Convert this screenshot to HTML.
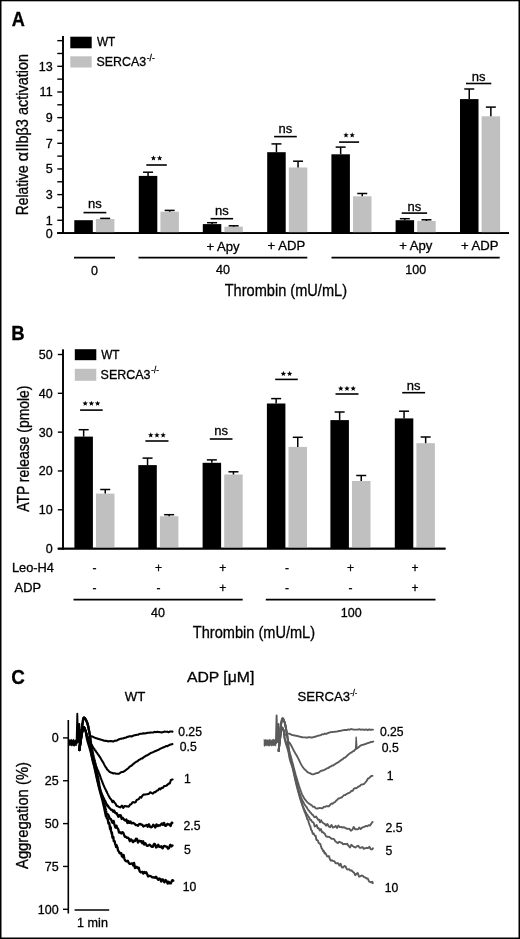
<!DOCTYPE html>
<html><head><meta charset="utf-8"><style>
html,body{margin:0;padding:0;background:#fff;overflow:hidden;width:520px;height:939px;}
svg{display:block;will-change:transform;}
text{font-family:"Liberation Sans", sans-serif;fill:#000;stroke:#000;stroke-width:0.3px;}
</style></head><body>
<svg width="520" height="939" viewBox="0 0 520 939">
<rect width="520" height="939" fill="#fff"/>
<rect x="0.00" y="0.00" width="520.00" height="1.30" fill="#000"/>
<rect x="0.00" y="0.00" width="1.50" height="939.00" fill="#000"/>
<rect x="518.50" y="0.00" width="1.50" height="939.00" fill="#000"/>
<rect x="0.00" y="937.50" width="520.00" height="1.50" fill="#000"/>
<text x="11.70" y="25.80" font-size="19.5" font-weight="bold" textLength="13.10" lengthAdjust="spacingAndGlyphs">A</text>
<text x="11.30" y="339.70" font-size="19.5" font-weight="bold" textLength="13.40" lengthAdjust="spacingAndGlyphs">B</text>
<text x="11.30" y="684.30" font-size="21" font-weight="bold" textLength="13.60" lengthAdjust="spacingAndGlyphs">C</text>
<line x1="63.00" y1="35.90" x2="63.00" y2="233.90" stroke="#000" stroke-width="1.6"/>
<line x1="57.30" y1="233.10" x2="509.00" y2="233.10" stroke="#000" stroke-width="1.8"/>
<line x1="57.30" y1="233.10" x2="63.00" y2="233.10" stroke="#000" stroke-width="1.4"/>
<line x1="57.30" y1="220.27" x2="63.00" y2="220.27" stroke="#000" stroke-width="1.4"/>
<line x1="57.30" y1="207.44" x2="63.00" y2="207.44" stroke="#000" stroke-width="1.4"/>
<line x1="57.30" y1="194.61" x2="63.00" y2="194.61" stroke="#000" stroke-width="1.4"/>
<line x1="57.30" y1="181.78" x2="63.00" y2="181.78" stroke="#000" stroke-width="1.4"/>
<line x1="57.30" y1="168.95" x2="63.00" y2="168.95" stroke="#000" stroke-width="1.4"/>
<line x1="57.30" y1="156.12" x2="63.00" y2="156.12" stroke="#000" stroke-width="1.4"/>
<line x1="57.30" y1="143.29" x2="63.00" y2="143.29" stroke="#000" stroke-width="1.4"/>
<line x1="57.30" y1="130.46" x2="63.00" y2="130.46" stroke="#000" stroke-width="1.4"/>
<line x1="57.30" y1="117.63" x2="63.00" y2="117.63" stroke="#000" stroke-width="1.4"/>
<line x1="57.30" y1="104.80" x2="63.00" y2="104.80" stroke="#000" stroke-width="1.4"/>
<line x1="57.30" y1="91.97" x2="63.00" y2="91.97" stroke="#000" stroke-width="1.4"/>
<line x1="57.30" y1="79.14" x2="63.00" y2="79.14" stroke="#000" stroke-width="1.4"/>
<line x1="57.30" y1="66.31" x2="63.00" y2="66.31" stroke="#000" stroke-width="1.4"/>
<line x1="57.30" y1="53.48" x2="63.00" y2="53.48" stroke="#000" stroke-width="1.4"/>
<line x1="57.30" y1="40.65" x2="63.00" y2="40.65" stroke="#000" stroke-width="1.4"/>
<text x="52.60" y="237.50" font-size="12.5" text-anchor="end">0</text>
<text x="52.60" y="224.67" font-size="12.5" text-anchor="end">1</text>
<text x="52.60" y="199.01" font-size="12.5" text-anchor="end">3</text>
<text x="52.60" y="173.35" font-size="12.5" text-anchor="end">5</text>
<text x="52.60" y="147.69" font-size="12.5" text-anchor="end">7</text>
<text x="52.60" y="122.03" font-size="12.5" text-anchor="end">9</text>
<text x="52.60" y="96.37" font-size="12.5" text-anchor="end">11</text>
<text x="52.60" y="70.71" font-size="12.5" text-anchor="end">13</text>
<text transform="translate(28.3,215.3) rotate(-90)" font-size="16.5" textLength="50.0" lengthAdjust="spacingAndGlyphs">Relative</text>
<text transform="translate(28.3,161.4) rotate(-90)" font-size="16.5">α</text>
<text transform="translate(28.3,151.6) rotate(-90)" font-size="16.5" textLength="97.7" lengthAdjust="spacingAndGlyphs">IIbβ3 activation</text>
<rect x="70.30" y="36.70" width="21.40" height="11.60" fill="#000"/>
<rect x="70.30" y="56.30" width="21.40" height="11.20" fill="#c0c0c0"/>
<text x="97.00" y="46.20" font-size="12.2" textLength="18.30" lengthAdjust="spacingAndGlyphs">WT</text>
<text x="96.60" y="65.60" font-size="12.2" textLength="49.60" lengthAdjust="spacingAndGlyphs">SERCA3</text>
<text x="146.80" y="60.90" font-size="8.5" textLength="8.00" lengthAdjust="spacingAndGlyphs">-/-</text>
<rect x="74.30" y="220.20" width="18.50" height="12.90" fill="#000"/>
<rect x="138.80" y="175.90" width="18.50" height="57.20" fill="#000"/>
<line x1="148.05" y1="172.20" x2="148.05" y2="175.90" stroke="#000" stroke-width="1.5"/>
<line x1="143.05" y1="172.20" x2="153.05" y2="172.20" stroke="#000" stroke-width="1.5"/>
<rect x="202.80" y="224.10" width="18.50" height="9.00" fill="#000"/>
<line x1="212.05" y1="222.70" x2="212.05" y2="224.10" stroke="#000" stroke-width="1.5"/>
<line x1="207.05" y1="222.70" x2="217.05" y2="222.70" stroke="#000" stroke-width="1.5"/>
<rect x="267.20" y="152.20" width="18.50" height="80.90" fill="#000"/>
<line x1="276.45" y1="143.90" x2="276.45" y2="152.20" stroke="#000" stroke-width="1.5"/>
<line x1="271.45" y1="143.90" x2="281.45" y2="143.90" stroke="#000" stroke-width="1.5"/>
<rect x="331.40" y="154.30" width="18.50" height="78.80" fill="#000"/>
<line x1="340.65" y1="147.10" x2="340.65" y2="154.30" stroke="#000" stroke-width="1.5"/>
<line x1="335.65" y1="147.10" x2="345.65" y2="147.10" stroke="#000" stroke-width="1.5"/>
<rect x="395.60" y="220.20" width="18.50" height="12.90" fill="#000"/>
<line x1="404.85" y1="218.70" x2="404.85" y2="220.20" stroke="#000" stroke-width="1.5"/>
<line x1="399.85" y1="218.70" x2="409.85" y2="218.70" stroke="#000" stroke-width="1.5"/>
<rect x="460.00" y="99.10" width="18.50" height="134.00" fill="#000"/>
<line x1="469.25" y1="89.00" x2="469.25" y2="99.10" stroke="#000" stroke-width="1.5"/>
<line x1="464.25" y1="89.00" x2="474.25" y2="89.00" stroke="#000" stroke-width="1.5"/>
<rect x="95.90" y="219.00" width="18.50" height="14.10" fill="#c0c0c0"/>
<line x1="105.15" y1="218.40" x2="105.15" y2="219.00" stroke="#000" stroke-width="1.5"/>
<line x1="100.15" y1="218.40" x2="110.15" y2="218.40" stroke="#000" stroke-width="1.5"/>
<rect x="160.40" y="211.70" width="18.50" height="21.40" fill="#c0c0c0"/>
<line x1="169.65" y1="210.40" x2="169.65" y2="211.70" stroke="#000" stroke-width="1.5"/>
<line x1="164.65" y1="210.40" x2="174.65" y2="210.40" stroke="#000" stroke-width="1.5"/>
<rect x="224.40" y="226.70" width="18.50" height="6.40" fill="#c0c0c0"/>
<line x1="233.65" y1="225.80" x2="233.65" y2="226.70" stroke="#000" stroke-width="1.5"/>
<line x1="228.65" y1="225.80" x2="238.65" y2="225.80" stroke="#000" stroke-width="1.5"/>
<rect x="288.80" y="167.50" width="18.50" height="65.60" fill="#c0c0c0"/>
<line x1="298.05" y1="161.20" x2="298.05" y2="167.50" stroke="#000" stroke-width="1.5"/>
<line x1="293.05" y1="161.20" x2="303.05" y2="161.20" stroke="#000" stroke-width="1.5"/>
<rect x="353.00" y="196.30" width="18.50" height="36.80" fill="#c0c0c0"/>
<line x1="362.25" y1="193.50" x2="362.25" y2="196.30" stroke="#000" stroke-width="1.5"/>
<line x1="357.25" y1="193.50" x2="367.25" y2="193.50" stroke="#000" stroke-width="1.5"/>
<rect x="417.20" y="221.00" width="18.50" height="12.10" fill="#c0c0c0"/>
<line x1="426.45" y1="219.80" x2="426.45" y2="221.00" stroke="#000" stroke-width="1.5"/>
<line x1="421.45" y1="219.80" x2="431.45" y2="219.80" stroke="#000" stroke-width="1.5"/>
<rect x="481.60" y="116.30" width="18.50" height="116.80" fill="#c0c0c0"/>
<line x1="490.85" y1="107.10" x2="490.85" y2="116.30" stroke="#000" stroke-width="1.5"/>
<line x1="485.85" y1="107.10" x2="495.85" y2="107.10" stroke="#000" stroke-width="1.5"/>
<line x1="57.30" y1="233.10" x2="509.00" y2="233.10" stroke="#000" stroke-width="1.8"/>
<line x1="63.00" y1="35.90" x2="63.00" y2="233.90" stroke="#000" stroke-width="1.6"/>
<line x1="83.50" y1="212.60" x2="106.30" y2="212.60" stroke="#000" stroke-width="1.6"/>
<text x="94.90" y="208.00" font-size="13" text-anchor="middle">ns</text>
<line x1="146.30" y1="165.00" x2="166.80" y2="165.00" stroke="#000" stroke-width="1.6"/>
<polygon points="153.45,155.35 154.18,157.19 156.16,157.32 154.64,158.59 155.13,160.51 153.45,159.45 151.77,160.51 152.26,158.59 150.74,157.32 152.72,157.19" fill="#000"/>
<polygon points="159.65,155.35 160.38,157.19 162.36,157.32 160.84,158.59 161.33,160.51 159.65,159.45 157.97,160.51 158.46,158.59 156.94,157.32 158.92,157.19" fill="#000"/>
<line x1="210.60" y1="218.70" x2="233.10" y2="218.70" stroke="#000" stroke-width="1.6"/>
<text x="221.85" y="215.10" font-size="13" text-anchor="middle">ns</text>
<line x1="274.10" y1="136.60" x2="296.80" y2="136.60" stroke="#000" stroke-width="1.6"/>
<text x="285.45" y="132.80" font-size="13" text-anchor="middle">ns</text>
<line x1="339.10" y1="142.10" x2="359.10" y2="142.10" stroke="#000" stroke-width="1.6"/>
<polygon points="346.00,132.35 346.73,134.19 348.71,134.32 347.19,135.59 347.68,137.51 346.00,136.45 344.32,137.51 344.81,135.59 343.29,134.32 345.27,134.19" fill="#000"/>
<polygon points="352.20,132.35 352.93,134.19 354.91,134.32 353.39,135.59 353.88,137.51 352.20,136.45 350.52,137.51 351.01,135.59 349.49,134.32 351.47,134.19" fill="#000"/>
<line x1="401.70" y1="213.10" x2="427.10" y2="213.10" stroke="#000" stroke-width="1.6"/>
<text x="414.40" y="210.50" font-size="13" text-anchor="middle">ns</text>
<line x1="466.00" y1="83.50" x2="491.30" y2="83.50" stroke="#000" stroke-width="1.6"/>
<text x="478.65" y="80.50" font-size="13" text-anchor="middle">ns</text>
<line x1="74.00" y1="257.60" x2="115.00" y2="257.60" stroke="#000" stroke-width="1.7"/>
<line x1="138.50" y1="257.60" x2="307.30" y2="257.60" stroke="#000" stroke-width="1.7"/>
<line x1="331.50" y1="257.60" x2="499.70" y2="257.60" stroke="#000" stroke-width="1.7"/>
<text x="94.60" y="274.50" font-size="12.5" text-anchor="middle">0</text>
<text x="223.00" y="274.40" font-size="12.5" text-anchor="middle">40</text>
<text x="415.70" y="274.20" font-size="12.5" text-anchor="middle">100</text>
<text x="223.00" y="250.60" font-size="12.8" text-anchor="middle" textLength="33.20" lengthAdjust="spacingAndGlyphs">+ Apy</text>
<text x="286.40" y="250.40" font-size="12.8" text-anchor="middle" textLength="37.60" lengthAdjust="spacingAndGlyphs">+ ADP</text>
<text x="415.80" y="250.20" font-size="12.8" text-anchor="middle" textLength="33.20" lengthAdjust="spacingAndGlyphs">+ Apy</text>
<text x="479.80" y="250.40" font-size="12.8" text-anchor="middle" textLength="37.60" lengthAdjust="spacingAndGlyphs">+ ADP</text>
<text x="285.84" y="296.30" font-size="16.5" text-anchor="middle" textLength="122.30" lengthAdjust="spacingAndGlyphs">Thrombin (mU/mL)</text>
<line x1="63.00" y1="349.60" x2="63.00" y2="549.40" stroke="#000" stroke-width="1.6"/>
<line x1="57.80" y1="548.60" x2="445.50" y2="548.60" stroke="#000" stroke-width="1.8"/>
<line x1="57.80" y1="548.60" x2="63.00" y2="548.60" stroke="#000" stroke-width="1.4"/>
<text x="52.60" y="553.00" font-size="12.5" text-anchor="end">0</text>
<line x1="57.80" y1="509.78" x2="63.00" y2="509.78" stroke="#000" stroke-width="1.4"/>
<text x="52.60" y="514.18" font-size="12.5" text-anchor="end">10</text>
<line x1="57.80" y1="470.96" x2="63.00" y2="470.96" stroke="#000" stroke-width="1.4"/>
<text x="52.60" y="475.36" font-size="12.5" text-anchor="end">20</text>
<line x1="57.80" y1="432.14" x2="63.00" y2="432.14" stroke="#000" stroke-width="1.4"/>
<text x="52.60" y="436.54" font-size="12.5" text-anchor="end">30</text>
<line x1="57.80" y1="393.32" x2="63.00" y2="393.32" stroke="#000" stroke-width="1.4"/>
<text x="52.60" y="397.72" font-size="12.5" text-anchor="end">40</text>
<line x1="57.80" y1="354.50" x2="63.00" y2="354.50" stroke="#000" stroke-width="1.4"/>
<text x="52.60" y="358.90" font-size="12.5" text-anchor="end">50</text>
<text transform="translate(28.8,511.8) rotate(-90)" font-size="16" textLength="126.2" lengthAdjust="spacingAndGlyphs">ATP release (pmole)</text>
<rect x="74.80" y="349.20" width="21.50" height="11.00" fill="#000"/>
<rect x="74.80" y="368.80" width="21.50" height="12.00" fill="#c0c0c0"/>
<text x="101.20" y="359.30" font-size="12.2" textLength="18.30" lengthAdjust="spacingAndGlyphs">WT</text>
<text x="100.60" y="378.70" font-size="12.2" textLength="49.90" lengthAdjust="spacingAndGlyphs">SERCA3</text>
<text x="151.30" y="373.10" font-size="8.5" textLength="7.60" lengthAdjust="spacingAndGlyphs">-/-</text>
<rect x="74.40" y="436.60" width="18.50" height="112.00" fill="#000"/>
<line x1="83.65" y1="429.70" x2="83.65" y2="436.60" stroke="#000" stroke-width="1.5"/>
<line x1="78.65" y1="429.70" x2="88.65" y2="429.70" stroke="#000" stroke-width="1.5"/>
<rect x="138.30" y="465.10" width="18.50" height="83.50" fill="#000"/>
<line x1="147.55" y1="458.10" x2="147.55" y2="465.10" stroke="#000" stroke-width="1.5"/>
<line x1="142.55" y1="458.10" x2="152.55" y2="458.10" stroke="#000" stroke-width="1.5"/>
<rect x="202.60" y="462.80" width="18.50" height="85.80" fill="#000"/>
<line x1="211.85" y1="459.90" x2="211.85" y2="462.80" stroke="#000" stroke-width="1.5"/>
<line x1="206.85" y1="459.90" x2="216.85" y2="459.90" stroke="#000" stroke-width="1.5"/>
<rect x="266.90" y="403.50" width="18.50" height="145.10" fill="#000"/>
<line x1="276.15" y1="398.60" x2="276.15" y2="403.50" stroke="#000" stroke-width="1.5"/>
<line x1="271.15" y1="398.60" x2="281.15" y2="398.60" stroke="#000" stroke-width="1.5"/>
<rect x="330.40" y="420.10" width="18.50" height="128.50" fill="#000"/>
<line x1="339.65" y1="412.00" x2="339.65" y2="420.10" stroke="#000" stroke-width="1.5"/>
<line x1="334.65" y1="412.00" x2="344.65" y2="412.00" stroke="#000" stroke-width="1.5"/>
<rect x="394.80" y="418.40" width="18.50" height="130.20" fill="#000"/>
<line x1="404.05" y1="411.20" x2="404.05" y2="418.40" stroke="#000" stroke-width="1.5"/>
<line x1="399.05" y1="411.20" x2="409.05" y2="411.20" stroke="#000" stroke-width="1.5"/>
<rect x="96.00" y="493.60" width="18.50" height="55.00" fill="#c0c0c0"/>
<line x1="105.25" y1="489.50" x2="105.25" y2="493.60" stroke="#000" stroke-width="1.5"/>
<line x1="100.25" y1="489.50" x2="110.25" y2="489.50" stroke="#000" stroke-width="1.5"/>
<rect x="159.90" y="516.20" width="18.50" height="32.40" fill="#c0c0c0"/>
<line x1="169.15" y1="514.70" x2="169.15" y2="516.20" stroke="#000" stroke-width="1.5"/>
<line x1="164.15" y1="514.70" x2="174.15" y2="514.70" stroke="#000" stroke-width="1.5"/>
<rect x="224.20" y="474.50" width="18.50" height="74.10" fill="#c0c0c0"/>
<line x1="233.45" y1="471.80" x2="233.45" y2="474.50" stroke="#000" stroke-width="1.5"/>
<line x1="228.45" y1="471.80" x2="238.45" y2="471.80" stroke="#000" stroke-width="1.5"/>
<rect x="288.50" y="446.90" width="18.50" height="101.70" fill="#c0c0c0"/>
<line x1="297.75" y1="437.30" x2="297.75" y2="446.90" stroke="#000" stroke-width="1.5"/>
<line x1="292.75" y1="437.30" x2="302.75" y2="437.30" stroke="#000" stroke-width="1.5"/>
<rect x="352.00" y="481.00" width="18.50" height="67.60" fill="#c0c0c0"/>
<line x1="361.25" y1="475.50" x2="361.25" y2="481.00" stroke="#000" stroke-width="1.5"/>
<line x1="356.25" y1="475.50" x2="366.25" y2="475.50" stroke="#000" stroke-width="1.5"/>
<rect x="416.40" y="443.20" width="18.50" height="105.40" fill="#c0c0c0"/>
<line x1="425.65" y1="437.00" x2="425.65" y2="443.20" stroke="#000" stroke-width="1.5"/>
<line x1="420.65" y1="437.00" x2="430.65" y2="437.00" stroke="#000" stroke-width="1.5"/>
<line x1="57.80" y1="548.60" x2="445.50" y2="548.60" stroke="#000" stroke-width="1.8"/>
<line x1="63.00" y1="349.60" x2="63.00" y2="549.40" stroke="#000" stroke-width="1.6"/>
<line x1="80.10" y1="410.10" x2="102.70" y2="410.10" stroke="#000" stroke-width="1.6"/>
<polygon points="85.20,400.65 85.93,402.49 87.91,402.62 86.39,403.89 86.88,405.81 85.20,404.75 83.52,405.81 84.01,403.89 82.49,402.62 84.47,402.49" fill="#000"/>
<polygon points="91.40,400.65 92.13,402.49 94.11,402.62 92.59,403.89 93.08,405.81 91.40,404.75 89.72,405.81 90.21,403.89 88.69,402.62 90.67,402.49" fill="#000"/>
<polygon points="97.60,400.65 98.33,402.49 100.31,402.62 98.79,403.89 99.28,405.81 97.60,404.75 95.92,405.81 96.41,403.89 94.89,402.62 96.87,402.49" fill="#000"/>
<line x1="145.40" y1="441.00" x2="168.50" y2="441.00" stroke="#000" stroke-width="1.6"/>
<polygon points="150.75,432.35 151.48,434.19 153.46,434.32 151.94,435.59 152.43,437.51 150.75,436.45 149.07,437.51 149.56,435.59 148.04,434.32 150.02,434.19" fill="#000"/>
<polygon points="156.95,432.35 157.68,434.19 159.66,434.32 158.14,435.59 158.63,437.51 156.95,436.45 155.27,437.51 155.76,435.59 154.24,434.32 156.22,434.19" fill="#000"/>
<polygon points="163.15,432.35 163.88,434.19 165.86,434.32 164.34,435.59 164.83,437.51 163.15,436.45 161.47,437.51 161.96,435.59 160.44,434.32 162.42,434.19" fill="#000"/>
<line x1="209.80" y1="439.00" x2="232.50" y2="439.00" stroke="#000" stroke-width="1.6"/>
<text x="221.15" y="434.80" font-size="13" text-anchor="middle">ns</text>
<line x1="275.20" y1="379.40" x2="297.80" y2="379.40" stroke="#000" stroke-width="1.6"/>
<polygon points="283.40,370.95 284.13,372.79 286.11,372.92 284.59,374.19 285.08,376.11 283.40,375.05 281.72,376.11 282.21,374.19 280.69,372.92 282.67,372.79" fill="#000"/>
<polygon points="289.60,370.95 290.33,372.79 292.31,372.92 290.79,374.19 291.28,376.11 289.60,375.05 287.92,376.11 288.41,374.19 286.89,372.92 288.87,372.79" fill="#000"/>
<line x1="335.50" y1="394.00" x2="358.50" y2="394.00" stroke="#000" stroke-width="1.6"/>
<polygon points="340.80,385.75 341.53,387.59 343.51,387.72 341.99,388.99 342.48,390.91 340.80,389.85 339.12,390.91 339.61,388.99 338.09,387.72 340.07,387.59" fill="#000"/>
<polygon points="347.00,385.75 347.73,387.59 349.71,387.72 348.19,388.99 348.68,390.91 347.00,389.85 345.32,390.91 345.81,388.99 344.29,387.72 346.27,387.59" fill="#000"/>
<polygon points="353.20,385.75 353.93,387.59 355.91,387.72 354.39,388.99 354.88,390.91 353.20,389.85 351.52,390.91 352.01,388.99 350.49,387.72 352.47,387.59" fill="#000"/>
<line x1="402.20" y1="392.70" x2="425.10" y2="392.70" stroke="#000" stroke-width="1.6"/>
<text x="413.65" y="389.60" font-size="13" text-anchor="middle">ns</text>
<text x="12.00" y="572.30" font-size="12.8" textLength="42.00" lengthAdjust="spacingAndGlyphs">Leo-H4</text>
<text x="14.60" y="592.00" font-size="12.8" textLength="26.40" lengthAdjust="spacingAndGlyphs">ADP</text>
<text x="94.60" y="572.30" font-size="12" text-anchor="middle">-</text>
<text x="94.60" y="591.60" font-size="12" text-anchor="middle">-</text>
<text x="158.50" y="572.30" font-size="12" text-anchor="middle">+</text>
<text x="158.50" y="591.60" font-size="12" text-anchor="middle">-</text>
<text x="222.80" y="572.30" font-size="12" text-anchor="middle">+</text>
<text x="222.80" y="591.60" font-size="12" text-anchor="middle">+</text>
<text x="287.10" y="572.30" font-size="12" text-anchor="middle">-</text>
<text x="287.10" y="591.60" font-size="12" text-anchor="middle">-</text>
<text x="350.60" y="572.30" font-size="12" text-anchor="middle">+</text>
<text x="350.60" y="591.60" font-size="12" text-anchor="middle">-</text>
<text x="415.00" y="572.30" font-size="12" text-anchor="middle">+</text>
<text x="415.00" y="591.60" font-size="12" text-anchor="middle">+</text>
<line x1="73.50" y1="599.60" x2="242.70" y2="599.60" stroke="#000" stroke-width="1.7"/>
<line x1="265.80" y1="599.60" x2="435.50" y2="599.60" stroke="#000" stroke-width="1.7"/>
<text x="158.00" y="616.60" font-size="12.5" text-anchor="middle">40</text>
<text x="351.30" y="616.60" font-size="12.5" text-anchor="middle">100</text>
<text x="253.94" y="638.00" font-size="16.5" text-anchor="middle" textLength="122.30" lengthAdjust="spacingAndGlyphs">Thrombin (mU/mL)</text>
<text x="220.60" y="681.60" font-size="14.6" text-anchor="middle" textLength="67.40" lengthAdjust="spacingAndGlyphs">ADP [μM]</text>
<text x="135.10" y="701.10" font-size="12.8" text-anchor="middle" textLength="20.50" lengthAdjust="spacingAndGlyphs">WT</text>
<text x="297.40" y="701.30" font-size="12.8" textLength="52.60" lengthAdjust="spacingAndGlyphs">SERCA3</text>
<text x="350.20" y="695.80" font-size="8.5" textLength="7.00" lengthAdjust="spacingAndGlyphs">-/-</text>
<line x1="68.30" y1="720.00" x2="68.30" y2="913.50" stroke="#000" stroke-width="1.6"/>
<line x1="63.00" y1="737.90" x2="68.30" y2="737.90" stroke="#000" stroke-width="1.4"/>
<text x="58.60" y="742.30" font-size="12.5" text-anchor="end">0</text>
<line x1="63.00" y1="780.75" x2="68.30" y2="780.75" stroke="#000" stroke-width="1.4"/>
<text x="58.60" y="785.15" font-size="12.5" text-anchor="end">25</text>
<line x1="63.00" y1="823.60" x2="68.30" y2="823.60" stroke="#000" stroke-width="1.4"/>
<text x="58.60" y="828.00" font-size="12.5" text-anchor="end">50</text>
<line x1="63.00" y1="866.45" x2="68.30" y2="866.45" stroke="#000" stroke-width="1.4"/>
<text x="58.60" y="870.85" font-size="12.5" text-anchor="end">75</text>
<line x1="63.00" y1="909.30" x2="68.30" y2="909.30" stroke="#000" stroke-width="1.4"/>
<text x="58.60" y="913.70" font-size="12.5" text-anchor="end">100</text>
<text transform="translate(28.4,869.0) rotate(-90)" font-size="16" textLength="107" lengthAdjust="spacingAndGlyphs">Aggregation (%)</text>
<line x1="74.60" y1="910.00" x2="109.20" y2="910.00" stroke="#000" stroke-width="1.6"/>
<text x="92.50" y="926.90" font-size="12.5" text-anchor="middle" textLength="30.80" lengthAdjust="spacingAndGlyphs">1 min</text>
<text x="178.20" y="735.50" font-size="12.2">0.25</text>
<text x="179.80" y="750.50" font-size="12.2">0.5</text>
<text x="184.00" y="783.40" font-size="12.2">1</text>
<text x="183.60" y="830.10" font-size="12.2">2.5</text>
<text x="184.00" y="853.70" font-size="12.2">5</text>
<text x="182.80" y="890.50" font-size="12.2">10</text>
<text x="379.90" y="735.50" font-size="12.2">0.25</text>
<text x="381.80" y="751.60" font-size="12.2">0.5</text>
<text x="386.70" y="779.70" font-size="12.2">1</text>
<text x="385.60" y="831.60" font-size="12.2">2.5</text>
<text x="385.60" y="855.10" font-size="12.2">5</text>
<text x="384.70" y="891.80" font-size="12.2">10</text>
<polygon points="69.00,739.38 69.70,739.90 70.40,740.04 71.10,739.24 71.80,739.41 72.50,740.50 73.20,739.30 73.90,739.38 74.60,740.53 75.30,740.07 76.00,739.72 76.70,739.92 76.70,745.58 76.00,745.68 75.30,745.19 74.60,746.27 73.90,745.67 73.20,746.04 72.50,745.62 71.80,745.84 71.10,746.00 70.40,745.09 69.70,745.29 69.00,745.83" fill="#000" stroke="#000" stroke-width="0.6" stroke-linejoin="round"/>
<polyline points="76.6,744 77.3,713.8 78.0,742 78.6,730 79.3,724 79.8,744 79.4,750" fill="none" stroke="#000" stroke-width="1.9" stroke-linejoin="round"/>
<polyline points="79.40,750.00 79.45,749.65 79.50,749.31 79.56,748.96 79.61,748.62 79.66,748.27 79.71,747.92 79.76,747.58 79.82,747.23 79.87,746.88 79.92,746.54 79.97,746.19 80.02,745.85 80.07,745.50 80.13,745.15 80.18,744.81 80.23,744.46 80.28,744.12 80.33,743.77 80.39,743.42 80.44,743.08 80.49,742.73 80.54,742.39 80.59,742.04 80.65,741.69 80.70,741.35 80.75,741.00 80.79,740.65 80.84,740.31 80.89,739.96 80.94,739.61 80.99,739.27 81.03,738.92 81.08,738.57 81.13,738.23 81.18,737.88 81.23,737.53 81.28,737.19 81.33,736.84 81.38,736.49 81.43,736.15 81.48,735.80 81.54,735.46 81.59,735.11 81.65,734.77 81.72,734.42 81.78,734.08 81.85,733.74 81.92,733.39 81.99,733.05 82.06,732.71 82.13,732.36 82.20,732.02 82.27,731.68 82.34,731.33 82.41,730.99 82.48,730.65 82.55,730.31 82.62,729.96 82.70,729.62 82.78,729.28 82.86,728.94 82.95,728.60 83.05,728.27 83.16,727.93 83.28,727.61 83.45,727.30 83.72,727.10 84.01,727.28 84.21,727.56 84.38,727.87 84.52,728.19 84.66,728.52 84.78,728.84 84.91,729.17 85.03,729.50 85.15,729.83 85.27,730.16 85.39,730.48 85.52,730.81 85.65,731.13 85.78,731.46 85.89,731.79 86.00,732.12 86.10,732.46 86.20,732.79 86.29,733.13 86.39,733.47 86.48,733.80 86.57,734.14 86.67,734.48 86.76,734.82 86.86,735.15 86.96,735.49 87.06,735.82 87.17,736.15 87.29,736.48 87.43,736.81 87.58,737.12 87.79,737.40 88.11,737.50 88.46,737.45 88.80,737.36 89.13,737.24 89.45,737.11 89.77,736.96 90.09,736.82 90.41,736.68 90.74,736.56 91.08,736.46 91.42,736.41 91.77,736.41 92.12,736.46 92.45,736.56 92.78,736.69 93.09,736.84 93.40,737.00 93.71,737.17 94.02,737.34 94.33,737.50 94.64,737.65 94.97,737.79 95.29,737.91 95.62,738.02 95.96,738.14 96.29,738.25 96.62,738.36 96.95,738.47 97.29,738.57 97.62,738.68 97.95,738.78 98.29,738.88 98.62,738.99 98.96,739.09 99.29,739.19 99.63,739.29 99.96,739.39 100.30,739.48 100.63,739.57 100.97,739.67 101.30,739.77 101.63,739.86 101.97,739.95 102.30,740.03 102.64,740.11 102.97,740.25 103.31,740.40 103.65,740.55 103.99,740.71 104.33,740.76 104.67,740.80 105.02,740.83 105.36,740.85 105.71,740.86 106.05,740.87 106.40,740.87 106.74,740.87 107.09,741.01 107.43,741.15 107.78,741.30 108.13,741.45 108.48,741.39 108.82,741.33 109.17,741.26 109.52,741.18 109.87,741.16 110.22,741.14 110.57,741.11 110.92,741.07 111.27,741.14 111.62,741.21 111.97,741.27 112.32,741.33 112.67,741.35 113.01,741.36 113.36,741.36 113.71,741.37 114.05,741.17 114.40,740.96 114.75,740.76 115.09,740.55 115.44,740.63 115.78,740.69 116.12,740.73 116.45,740.77 116.79,740.56 117.12,740.34 117.45,740.11 117.78,739.89 118.10,739.75 118.43,739.61 118.76,739.47 119.09,739.33 119.42,739.20 119.75,739.07 120.08,738.95 120.41,738.83 120.75,738.77 121.08,738.71 121.41,738.65 121.74,738.58 122.08,738.55 122.41,738.52 122.74,738.48 123.07,738.45 123.41,738.30 123.74,738.16 124.08,738.01 124.41,737.87 124.75,737.83 125.08,737.80 125.42,737.76 125.76,737.73 126.09,737.53 126.43,737.33 126.77,737.12 127.11,736.92 127.45,736.85 127.79,736.78 128.12,736.71 128.46,736.65 128.80,736.52 129.14,736.40 129.48,736.28 129.82,736.15 130.16,736.23 130.51,736.30 130.85,736.38 131.19,736.46 131.53,736.38 131.87,736.30 132.21,736.22 132.56,736.14 132.90,735.94 133.24,735.74 133.58,735.54 133.92,735.34 134.27,735.31 134.61,735.27 134.95,735.23 135.29,735.19 135.63,735.09 135.98,735.00 136.32,734.90 136.66,734.80 137.00,734.80 137.34,734.80 137.68,734.80 138.03,734.80 138.37,734.60 138.71,734.40 139.05,734.20 139.39,734.01 139.74,733.94 140.08,733.87 140.42,733.80 140.76,733.74 141.11,733.72 141.45,733.71 141.79,733.69 142.13,733.68 142.48,733.58 142.82,733.48 143.16,733.39 143.50,733.29 143.85,733.33 144.19,733.37 144.54,733.42 144.88,733.46 145.23,733.39 145.57,733.31 145.92,733.24 146.26,733.17 146.61,733.08 146.96,732.99 147.30,732.91 147.65,732.82 148.00,732.79 148.34,732.77 148.69,732.74 149.04,732.72 149.38,732.68 149.73,732.65 150.08,732.62 150.43,732.59 150.78,732.57 151.12,732.55 151.47,732.53 151.82,732.51 152.17,732.51 152.52,732.50 152.87,732.50 153.22,732.50 153.57,732.34 153.91,732.18 154.26,732.02 154.61,731.87 154.96,731.94 155.31,732.01 155.66,732.09 156.01,732.16 156.36,732.07 156.71,731.98 157.06,731.88 157.41,731.79 157.76,731.84 158.11,731.89 158.46,731.93 158.81,731.98 159.16,732.03 159.51,732.09 159.86,732.14 160.21,732.20 160.56,732.26 160.91,732.32 161.26,732.38 161.61,732.44 161.96,732.36 162.31,732.28 162.66,732.21 163.01,732.13 163.36,732.00 163.71,731.86 164.06,731.73 164.41,731.60 164.76,731.65 165.11,731.70 165.46,731.75 165.81,731.80 166.16,731.76 166.51,731.72 166.86,731.68 167.21,731.64 167.56,731.78 167.91,731.92 168.26,732.06 168.61,732.20 168.96,732.05 169.31,731.89 169.66,731.74 170.01,731.59 170.36,731.57 170.71,731.55 171.06,731.53 171.41,731.51 171.76,731.56 172.11,731.60 172.46,731.65" fill="none" stroke="#000" stroke-width="2.1" stroke-linejoin="round" stroke-linecap="round"/>
<polyline points="79.40,750.00 79.45,749.65 79.50,749.31 79.56,748.96 79.61,748.62 79.66,748.27 79.71,747.92 79.76,747.58 79.82,747.23 79.87,746.88 79.92,746.54 79.97,746.19 80.02,745.85 80.07,745.50 80.13,745.15 80.18,744.81 80.23,744.46 80.28,744.12 80.33,743.77 80.39,743.42 80.44,743.08 80.49,742.73 80.54,742.39 80.59,742.04 80.65,741.69 80.70,741.35 80.75,741.00 80.79,740.65 80.84,740.31 80.89,739.96 80.94,739.61 80.99,739.27 81.03,738.92 81.08,738.57 81.13,738.23 81.18,737.88 81.23,737.53 81.28,737.19 81.33,736.84 81.38,736.49 81.43,736.15 81.48,735.80 81.54,735.46 81.59,735.11 81.65,734.77 81.72,734.42 81.78,734.08 81.85,733.74 81.92,733.39 81.99,733.05 82.06,732.71 82.13,732.36 82.20,732.02 82.27,731.68 82.34,731.33 82.41,730.99 82.48,730.65 82.55,730.31 82.62,729.96 82.70,729.62 82.78,729.28 82.86,728.94 82.95,728.60 83.05,728.27 83.16,727.93 83.28,727.61 83.45,727.30 83.72,727.10 84.01,727.27 84.22,727.55 84.39,727.86 84.54,728.17 84.68,728.50 84.81,728.82 84.93,729.15 85.05,729.48 85.17,729.81 85.29,730.14 85.40,730.47 85.52,730.80 85.64,731.12 85.76,731.46 85.86,731.79 85.95,732.13 86.04,732.47 86.13,732.81 86.21,733.15 86.30,733.49 86.38,733.83 86.46,734.17 86.54,734.51 86.62,734.85 86.70,735.19 86.78,735.53 86.86,735.87 86.95,736.21 87.04,736.55 87.13,736.88 87.23,737.22 87.33,737.55 87.45,737.88 87.59,738.21 87.73,738.52 87.88,738.84 88.04,739.15 88.20,739.46 88.38,739.77 88.55,740.07 88.74,740.37 88.93,740.66 89.12,740.95 89.32,741.24 89.52,741.53 89.72,741.81 89.92,742.10 90.11,742.39 90.31,742.69 90.49,742.98 90.67,743.28 90.85,743.58 91.03,743.88 91.21,744.18 91.39,744.48 91.57,744.78 91.75,745.08 91.93,745.38 92.11,745.68 92.30,745.98 92.48,746.28 92.66,746.58 92.85,746.88 93.03,747.17 93.22,747.47 93.41,747.76 93.60,748.05 93.79,748.35 93.99,748.64 94.19,748.93 94.38,749.22 94.58,749.50 94.78,749.79 94.98,750.08 95.19,750.36 95.39,750.65 95.59,750.93 95.80,751.22 96.00,751.50 96.21,751.78 96.41,752.07 96.62,752.35 96.82,752.64 97.02,752.92 97.23,753.21 97.43,753.49 97.63,753.78 97.83,754.06 98.03,754.35 98.24,754.64 98.44,754.92 98.64,755.21 98.84,755.49 99.04,755.78 99.24,756.07 99.44,756.36 99.64,756.65 99.83,756.94 100.02,757.23 100.21,757.52 100.39,757.82 100.57,758.12 100.75,758.43 100.93,758.74 101.10,759.05 101.28,759.36 101.45,759.66 101.62,759.96 101.80,760.26 101.97,760.54 102.14,760.82 102.32,761.09 102.49,761.36 102.67,761.66 102.84,761.95 103.02,762.25 103.20,762.54 103.38,762.87 103.56,763.19 103.73,763.53 103.91,763.86 104.08,764.20 104.26,764.54 104.43,764.89 104.61,765.24 104.79,765.58 104.96,765.93 105.14,766.27 105.32,766.62 105.50,766.83 105.69,767.03 105.87,767.23 106.06,767.41 106.26,767.81 106.46,768.21 106.66,768.61 106.87,769.02 107.08,769.28 107.30,769.53 107.51,769.77 107.73,770.02 107.95,770.21 108.18,770.39 108.40,770.56 108.64,770.73 108.88,771.05 109.12,771.35 109.38,771.65 109.65,771.93 109.94,772.07 110.24,772.18 110.54,772.29 110.84,772.40 111.15,772.53 111.46,772.65 111.78,772.75 112.11,772.84 112.44,773.02 112.79,773.17 113.13,773.30 113.48,773.41 113.83,773.37 114.17,773.32 114.52,773.27 114.87,773.22 115.22,773.36 115.57,773.51 115.92,773.65 116.27,773.78 116.62,773.80 116.97,773.81 117.32,773.80 117.67,773.77 118.01,773.79 118.36,773.79 118.70,773.78 119.03,773.75 119.36,773.51 119.69,773.26 120.02,773.00 120.35,772.74 120.67,772.55 121.00,772.36 121.32,772.17 121.64,771.98 121.97,771.98 122.29,771.99 122.61,771.98 122.92,771.96 123.23,771.79 123.54,771.62 123.84,771.44 124.14,771.25 124.44,771.08 124.73,770.91 125.03,770.74 125.32,770.57 125.62,770.31 125.91,770.06 126.20,769.80 126.49,769.54 126.78,769.35 127.06,769.16 127.35,768.97 127.63,768.77 127.91,768.51 128.18,768.24 128.46,767.98 128.74,767.71 129.01,767.42 129.29,767.13 129.56,766.84 129.84,766.55 130.11,766.39 130.38,766.23 130.65,766.06 130.92,765.90 131.18,765.77 131.45,765.64 131.71,765.51 131.97,765.38 132.23,765.05 132.49,764.73 132.76,764.40 133.02,764.07 133.29,763.91 133.55,763.74 133.82,763.58 134.09,763.43 134.37,763.18 134.64,762.93 134.93,762.69 135.21,762.45 135.50,762.24 135.79,762.04 136.08,761.84 136.38,761.64 136.67,761.55 136.97,761.45 137.27,761.36 137.57,761.27 137.87,760.95 138.17,760.63 138.47,760.32 138.77,760.00 139.08,759.88 139.38,759.75 139.68,759.63 139.98,759.51 140.28,759.27 140.57,759.03 140.87,758.79 141.17,758.55 141.47,758.50 141.77,758.45 142.07,758.41 142.37,758.36 142.67,758.10 142.97,757.84 143.27,757.58 143.57,757.33 143.87,757.12 144.17,756.92 144.47,756.71 144.78,756.51 145.08,756.31 145.38,756.11 145.69,755.91 146.00,755.71 146.30,755.62 146.61,755.53 146.92,755.43 147.23,755.34 147.54,755.14 147.85,754.95 148.16,754.75 148.46,754.55 148.77,754.34 149.08,754.13 149.39,753.91 149.70,753.70 150.01,753.52 150.32,753.33 150.62,753.15 150.93,752.96 151.24,752.86 151.54,752.75 151.85,752.64 152.15,752.54 152.46,752.40 152.77,752.27 153.07,752.13 153.38,752.00 153.69,751.82 154.00,751.65 154.31,751.47 154.62,751.30 154.93,751.21 155.25,751.12 155.56,751.04 155.88,750.95 156.19,750.80 156.51,750.65 156.82,750.51 157.14,750.36 157.46,750.22 157.78,750.08 158.10,749.94 158.42,749.80 158.74,749.63 159.06,749.47 159.38,749.30 159.70,749.14 160.02,748.94 160.34,748.75 160.66,748.56 160.99,748.37 161.31,748.24 161.64,748.12 161.96,747.99 162.28,747.87 162.61,747.72 162.93,747.57 163.26,747.42 163.59,747.27 163.91,747.14 164.24,747.02 164.57,746.89 164.89,746.77 165.22,746.58 165.55,746.40 165.88,746.22 166.21,746.04 166.54,746.06 166.87,746.07 167.20,746.09 167.53,746.11 167.86,745.90 168.19,745.69 168.52,745.47 168.85,745.26 169.18,745.10 169.51,744.94 169.83,744.77 170.16,744.61 170.48,744.55 170.80,744.49 171.13,744.43 171.45,744.36 171.76,744.26 172.08,744.16 172.40,744.05" fill="none" stroke="#000" stroke-width="2.1" stroke-linejoin="round" stroke-linecap="round"/>
<polyline points="79.40,750.00 79.45,749.65 79.50,749.31 79.56,748.96 79.61,748.62 79.66,748.27 79.71,747.92 79.76,747.58 79.82,747.23 79.87,746.88 79.92,746.54 79.97,746.19 80.02,745.85 80.07,745.50 80.13,745.15 80.18,744.81 80.23,744.46 80.28,744.12 80.33,743.77 80.39,743.42 80.44,743.08 80.49,742.73 80.54,742.39 80.59,742.04 80.65,741.69 80.70,741.35 80.75,741.00 80.79,740.65 80.84,740.31 80.89,739.96 80.94,739.61 80.99,739.27 81.03,738.92 81.08,738.57 81.13,738.23 81.18,737.88 81.23,737.53 81.28,737.19 81.33,736.84 81.38,736.49 81.43,736.15 81.48,735.80 81.54,735.46 81.59,735.11 81.65,734.77 81.72,734.42 81.78,734.08 81.85,733.74 81.92,733.39 81.99,733.05 82.06,732.71 82.13,732.36 82.20,732.02 82.27,731.68 82.34,731.33 82.41,730.99 82.48,730.65 82.55,730.31 82.62,729.96 82.70,729.62 82.78,729.28 82.86,728.94 82.95,728.60 83.05,728.27 83.16,727.93 83.28,727.61 83.45,727.30 83.72,727.10 84.01,727.27 84.22,727.55 84.39,727.86 84.54,728.18 84.68,728.50 84.80,728.83 84.93,729.15 85.05,729.48 85.16,729.81 85.28,730.14 85.40,730.47 85.52,730.80 85.65,731.13 85.77,731.45 85.88,731.79 85.99,732.12 86.09,732.45 86.19,732.79 86.28,733.13 86.38,733.46 86.47,733.80 86.56,734.14 86.65,734.48 86.74,734.81 86.83,735.15 86.92,735.49 87.01,735.83 87.10,736.17 87.19,736.51 87.28,736.85 87.37,737.18 87.46,737.52 87.56,737.86 87.66,738.19 87.75,738.53 87.85,738.87 87.95,739.20 88.04,739.54 88.14,739.88 88.24,740.21 88.34,740.55 88.43,740.88 88.53,741.22 88.63,741.56 88.72,741.89 88.82,742.23 88.92,742.56 89.02,742.90 89.11,743.24 89.21,743.57 89.31,743.91 89.41,744.25 89.50,744.58 89.60,744.92 89.70,745.25 89.80,745.59 89.90,745.93 90.00,746.26 90.09,746.60 90.19,746.93 90.29,747.27 90.39,747.60 90.49,747.94 90.59,748.28 90.69,748.61 90.78,748.95 90.88,749.28 90.98,749.62 91.08,749.96 91.18,750.29 91.27,750.63 91.37,750.96 91.47,751.30 91.56,751.64 91.66,751.97 91.75,752.31 91.85,752.65 91.95,752.98 92.04,753.32 92.14,753.66 92.23,753.99 92.33,754.33 92.42,754.67 92.52,755.01 92.61,755.34 92.71,755.68 92.80,756.02 92.90,756.35 92.99,756.69 93.09,757.03 93.19,757.36 93.28,757.70 93.38,758.03 93.48,758.37 93.58,758.71 93.68,759.04 93.77,759.38 93.87,759.71 93.98,760.05 94.08,760.38 94.18,760.72 94.28,761.05 94.39,761.39 94.49,761.72 94.60,762.05 94.70,762.39 94.81,762.72 94.92,763.05 95.03,763.38 95.14,763.72 95.26,764.05 95.37,764.38 95.49,764.71 95.61,765.04 95.74,765.36 95.86,765.69 95.99,766.01 96.12,766.34 96.26,766.66 96.39,766.98 96.53,767.31 96.67,767.63 96.82,767.95 96.96,768.27 97.10,768.58 97.25,768.90 97.39,769.22 97.54,769.54 97.68,769.86 97.83,770.18 97.97,770.50 98.11,770.82 98.25,771.14 98.38,771.46 98.51,771.79 98.64,772.11 98.77,772.44 98.90,772.76 99.02,773.09 99.15,773.42 99.27,773.75 99.39,774.07 99.52,774.40 99.64,774.73 99.76,775.06 99.88,775.39 100.00,775.72 100.12,776.05 100.23,776.37 100.35,776.70 100.47,777.03 100.59,777.36 100.71,777.69 100.83,778.02 100.96,778.35 101.08,778.67 101.20,779.00 101.32,779.33 101.45,779.66 101.57,779.99 101.69,780.31 101.81,780.64 101.94,780.97 102.06,781.30 102.18,781.63 102.30,781.95 102.43,782.28 102.55,782.61 102.67,782.94 102.80,783.26 102.93,783.59 103.06,783.91 103.19,784.24 103.32,784.56 103.45,784.89 103.59,785.21 103.73,785.53 103.87,785.85 104.01,786.17 104.15,786.50 104.30,786.83 104.44,787.16 104.59,787.50 104.74,787.84 104.89,788.19 105.04,788.48 105.19,788.76 105.34,789.02 105.49,789.27 105.64,789.60 105.79,789.94 105.94,790.28 106.08,790.63 106.23,790.89 106.38,791.14 106.52,791.38 106.67,791.61 106.82,791.95 106.96,792.29 107.11,792.63 107.26,792.98 107.40,793.23 107.55,793.48 107.71,793.72 107.86,793.96 108.01,794.33 108.17,794.70 108.33,795.07 108.50,795.45 108.67,795.75 108.84,796.05 109.02,796.35 109.20,796.65 109.38,797.02 109.56,797.40 109.74,797.79 109.93,798.18 110.12,798.38 110.31,798.58 110.51,798.77 110.71,798.95 110.91,799.23 111.11,799.50 111.32,799.77 111.54,800.03 111.76,800.54 111.98,801.06 112.21,801.58 112.44,802.09 112.67,801.77 112.90,801.46 113.14,801.13 113.38,800.81 113.62,801.23 113.86,801.65 114.11,802.06 114.37,802.47 114.63,802.73 114.89,802.98 115.17,803.23 115.44,803.47 115.73,804.07 116.02,804.67 116.31,805.27 116.60,805.88 116.89,805.96 117.18,806.04 117.47,806.11 117.77,806.17 118.08,806.39 118.40,806.58 118.72,806.75 119.06,806.89 119.41,807.06 119.76,807.19 120.11,807.30 120.46,807.42 120.81,806.95 121.16,806.48 121.51,806.01 121.86,805.54 122.21,806.14 122.56,806.73 122.91,807.33 123.26,807.93 123.61,807.44 123.96,806.96 124.31,806.47 124.66,805.97 125.01,806.08 125.35,806.18 125.70,806.27 126.04,806.35 126.39,806.36 126.73,806.37 127.07,806.37 127.41,806.36 127.75,806.43 128.08,806.50 128.42,806.56 128.75,806.62 129.09,806.14 129.41,805.63 129.73,805.10 130.03,804.55 130.33,804.49 130.63,804.41 130.92,804.33 131.20,804.24 131.48,803.81 131.75,803.38 132.03,802.94 132.30,802.50 132.57,802.40 132.83,802.30 133.10,802.19 133.37,802.09 133.64,802.21 133.91,802.33 134.18,802.45 134.45,802.58 134.73,802.47 135.01,802.37 135.29,802.26 135.57,802.15 135.84,801.64 136.12,801.12 136.39,800.60 136.67,800.08 136.94,799.96 137.22,799.85 137.49,799.73 137.76,799.62 138.04,799.46 138.32,799.30 138.60,799.15 138.88,799.00 139.16,798.50 139.44,798.01 139.73,797.53 140.02,797.05 140.31,797.18 140.60,797.31 140.90,797.44 141.19,797.57 141.48,797.11 141.77,796.65 142.07,796.20 142.36,795.75 142.66,795.42 142.96,795.09 143.26,794.78 143.57,794.46 143.88,794.49 144.20,794.52 144.52,794.56 144.84,794.62 145.17,794.53 145.50,794.45 145.84,794.39 146.17,794.32 146.51,794.28 146.85,794.25 147.19,794.22 147.54,794.19 147.88,794.10 148.22,794.02 148.56,793.93 148.90,793.84 149.24,793.44 149.58,793.03 149.92,792.62 150.25,792.21 150.58,792.40 150.92,792.59 151.25,792.79 151.58,792.97 151.91,793.15 152.24,793.32 152.57,793.50 152.90,793.66 153.23,793.27 153.56,792.87 153.88,792.47 154.21,792.07 154.53,792.09 154.86,792.11 155.18,792.12 155.50,792.13 155.82,791.75 156.13,791.37 156.45,790.98 156.76,790.59 157.07,790.58 157.38,790.56 157.69,790.55 157.99,790.53 158.30,790.03 158.61,789.52 158.91,789.02 159.22,788.51 159.52,788.72 159.83,788.93 160.14,789.14 160.44,789.35 160.75,788.95 161.06,788.55 161.36,788.15 161.67,787.75 161.97,787.80 162.28,787.85 162.58,787.89 162.89,787.94 163.19,787.49 163.49,787.03 163.79,786.57 164.09,786.11 164.39,786.08 164.68,786.05 164.98,786.01 165.27,785.97 165.57,785.90 165.86,785.82 166.16,785.74 166.45,785.66 166.74,785.40 167.03,785.13 167.32,784.87 167.61,784.60 167.89,784.35 168.18,784.10 168.46,783.85 168.74,783.59 169.01,783.55 169.28,783.50 169.55,783.46 169.82,783.40 170.08,782.58 170.33,781.76 170.58,780.93 170.83,780.09 171.07,779.99 171.30,779.88 171.53,779.77 171.76,779.65 171.98,779.61 172.21,779.56 172.43,779.52 172.65,779.47" fill="none" stroke="#000" stroke-width="2.1" stroke-linejoin="round" stroke-linecap="round"/>
<polyline points="79.40,750.00 79.43,749.65 79.46,749.30 79.48,748.95 79.51,748.60 79.54,748.26 79.57,747.91 79.60,747.56 79.63,747.21 79.66,746.86 79.68,746.51 79.71,746.16 79.74,745.81 79.77,745.47 79.80,745.12 79.84,744.77 79.87,744.42 79.90,744.07 79.93,743.72 79.96,743.37 79.99,743.03 80.02,742.68 80.06,742.33 80.09,741.98 80.12,741.63 80.16,741.28 80.19,740.93 80.23,740.59 80.26,740.24 80.30,739.89 80.33,739.54 80.37,739.19 80.41,738.85 80.45,738.50 80.48,738.15 80.52,737.80 80.56,737.45 80.60,737.11 80.64,736.76 80.69,736.41 80.73,736.06 80.77,735.72 80.81,735.37 80.86,735.02 80.90,734.68 80.95,734.33 80.99,733.98 81.04,733.63 81.09,733.29 81.13,732.94 81.18,732.59 81.23,732.25 81.28,731.90 81.33,731.55 81.38,731.21 81.44,730.86 81.49,730.52 81.54,730.17 81.60,729.82 81.65,729.48 81.70,729.13 81.75,728.79 81.81,728.44 81.86,728.09 81.91,727.75 81.96,727.40 82.01,727.05 82.05,726.71 82.10,726.36 82.15,726.02 82.20,725.67 82.25,725.32 82.30,724.98 82.35,724.63 82.40,724.28 82.44,723.94 82.49,723.59 82.54,723.24 82.60,722.90 82.65,722.55 82.70,722.20 82.75,721.86 82.81,721.51 82.87,721.17 82.92,720.82 82.98,720.48 83.05,720.13 83.11,719.79 83.18,719.45 83.26,719.11 83.34,718.76 83.43,718.43 83.55,718.10 83.69,717.78 83.97,717.60 84.30,717.71 84.58,717.91 84.83,718.16 85.04,718.44 85.24,718.72 85.43,719.02 85.60,719.32 85.77,719.63 85.93,719.94 86.09,720.26 86.24,720.57 86.39,720.89 86.54,721.20 86.68,721.52 86.83,721.84 86.97,722.16 87.10,722.49 87.22,722.82 87.33,723.15 87.43,723.48 87.53,723.82 87.63,724.15 87.72,724.49 87.81,724.83 87.89,725.17 87.97,725.51 88.05,725.85 88.13,726.19 88.21,726.53 88.28,726.88 88.36,727.22 88.43,727.56 88.50,727.90 88.57,728.25 88.64,728.59 88.71,728.93 88.78,729.28 88.85,729.62 88.91,729.96 88.98,730.31 89.04,730.65 89.11,730.99 89.17,731.34 89.24,731.68 89.30,732.03 89.37,732.37 89.43,732.71 89.49,733.06 89.55,733.40 89.61,733.75 89.67,734.09 89.72,734.44 89.77,734.79 89.82,735.13 89.87,735.48 89.92,735.83 89.96,736.17 90.01,736.52 90.06,736.87 90.10,737.21 90.15,737.56 90.20,737.91 90.25,738.25 90.29,738.60 90.34,738.95 90.39,739.29 90.45,739.64 90.50,739.99 90.55,740.33 90.61,740.68 90.66,741.02 90.72,741.37 90.77,741.71 90.83,742.06 90.89,742.40 90.94,742.75 91.00,743.10 91.06,743.44 91.11,743.79 91.17,744.13 91.23,744.48 91.29,744.82 91.35,745.17 91.41,745.51 91.46,745.86 91.52,746.20 91.58,746.55 91.64,746.89 91.71,747.24 91.77,747.58 91.83,747.92 91.89,748.27 91.95,748.61 92.02,748.96 92.08,749.30 92.14,749.65 92.21,749.99 92.27,750.33 92.34,750.68 92.41,751.02 92.47,751.36 92.54,751.71 92.61,752.05 92.68,752.39 92.75,752.74 92.82,753.08 92.89,753.42 92.97,753.76 93.04,754.11 93.12,754.45 93.19,754.79 93.27,755.13 93.35,755.47 93.42,755.81 93.50,756.16 93.58,756.50 93.66,756.84 93.74,757.18 93.83,757.52 93.91,757.86 93.99,758.20 94.07,758.54 94.16,758.88 94.24,759.22 94.33,759.56 94.41,759.90 94.50,760.24 94.58,760.58 94.66,760.92 94.75,761.26 94.83,761.60 94.92,761.93 95.00,762.27 95.08,762.61 95.17,762.95 95.25,763.30 95.33,763.64 95.41,763.98 95.49,764.32 95.57,764.66 95.65,765.00 95.73,765.34 95.80,765.68 95.88,766.02 95.95,766.37 96.03,766.71 96.10,767.05 96.17,767.39 96.24,767.73 96.32,768.08 96.39,768.42 96.45,768.76 96.52,769.11 96.59,769.45 96.65,769.79 96.72,770.14 96.78,770.48 96.85,770.83 96.91,771.17 96.98,771.51 97.04,771.86 97.10,772.20 97.16,772.55 97.23,772.89 97.29,773.24 97.35,773.58 97.41,773.93 97.47,774.27 97.53,774.61 97.59,774.96 97.65,775.30 97.72,775.65 97.78,775.99 97.84,776.34 97.90,776.68 97.96,777.03 98.02,777.37 98.08,777.72 98.15,778.06 98.21,778.41 98.27,778.75 98.33,779.09 98.40,779.44 98.46,779.78 98.52,780.13 98.59,780.47 98.65,780.81 98.71,781.16 98.77,781.50 98.83,781.85 98.89,782.19 98.95,782.54 99.01,782.88 99.07,783.23 99.13,783.57 99.19,783.92 99.24,784.26 99.30,784.61 99.36,784.95 99.42,785.30 99.48,785.64 99.55,785.99 99.61,786.33 99.67,786.68 99.74,787.02 99.80,787.36 99.87,787.71 99.94,788.05 100.01,788.39 100.08,788.74 100.16,789.08 100.24,789.42 100.33,789.76 100.43,790.09 100.53,790.43 100.63,790.76 100.73,791.10 100.84,791.43 100.95,791.76 101.06,792.09 101.17,792.43 101.29,792.76 101.41,793.08 101.53,793.41 101.66,793.74 101.79,794.06 101.92,794.39 102.06,794.71 102.20,795.03 102.34,795.35 102.48,795.67 102.63,795.99 102.78,796.30 102.93,796.62 103.08,796.94 103.24,797.25 103.39,797.56 103.55,797.88 103.70,798.19 103.86,798.50 104.01,798.82 104.17,799.16 104.32,799.49 104.47,799.77 104.63,800.03 104.78,800.32 104.93,800.66 105.09,801.02 105.25,801.36 105.40,801.67 105.56,801.99 105.72,802.33 105.89,802.76 106.05,803.20 106.22,803.63 106.38,803.86 106.55,804.06 106.73,804.25 106.91,804.74 107.09,805.25 107.27,805.78 107.46,805.79 107.66,805.67 107.86,805.49 108.07,805.81 108.28,806.36 108.51,806.94 108.73,807.32 108.96,807.53 109.20,807.74 109.43,807.94 109.68,808.14 109.92,808.34 110.17,808.57 110.43,808.93 110.68,809.30 110.94,809.65 111.20,809.81 111.46,809.96 111.72,810.11 111.98,810.08 112.24,810.04 112.50,810.01 112.76,810.54 113.02,811.16 113.28,811.78 113.54,811.61 113.81,811.13 114.07,810.65 114.34,810.86 114.61,811.59 114.88,812.31 115.15,812.81 115.42,813.00 115.69,813.19 115.96,813.30 116.23,813.22 116.50,813.14 116.77,813.17 117.03,813.84 117.30,814.52 117.57,815.20 117.83,815.71 118.09,816.23 118.35,816.74 118.60,816.30 118.85,815.70 119.10,815.11 119.34,815.27 119.59,815.74 119.83,816.21 120.08,816.15 120.33,815.71 120.59,815.26 120.85,815.56 121.11,816.86 121.39,818.14 121.68,818.92 121.96,818.47 122.26,818.00 122.55,817.65 122.85,818.02 123.16,818.39 123.46,818.74 123.77,819.19 124.08,819.63 124.39,820.06 124.71,820.26 125.02,820.41 125.34,820.56 125.66,820.32 125.99,819.92 126.31,819.52 126.64,820.09 126.96,821.38 127.29,822.66 127.62,823.06 127.95,822.26 128.28,821.47 128.61,821.07 128.94,821.67 129.27,822.27 129.60,822.73 129.93,822.35 130.26,821.98 130.59,821.60 130.92,822.20 131.25,822.79 131.58,823.39 131.91,823.31 132.24,823.11 132.57,822.92 132.90,822.92 133.23,822.98 133.56,823.05 133.89,823.25 134.23,823.56 134.56,823.86 134.90,824.16 135.24,824.48 135.57,824.79 135.91,825.02 136.25,825.04 136.59,825.07 136.93,825.12 137.27,825.32 137.61,825.51 137.95,825.71 138.29,825.25 138.63,824.79 138.97,824.33 139.32,824.14 139.66,823.99 140.00,823.83 140.34,823.98 140.69,824.26 141.03,824.54 141.37,824.67 141.71,824.68 142.06,824.69 142.40,824.94 142.74,825.52 143.09,826.10 143.43,826.45 143.78,826.26 144.12,826.07 144.47,825.88 144.82,825.79 145.17,825.69 145.52,825.59 145.86,825.35 146.21,825.11 146.56,824.87 146.91,825.40 147.26,826.06 147.61,826.72 147.96,826.23 148.31,825.28 148.66,824.33 149.01,824.43 149.36,825.32 149.71,826.21 150.06,826.80 150.41,827.00 150.76,827.18 151.10,827.27 151.45,827.15 151.80,827.01 152.14,826.81 152.49,826.16 152.83,825.51 153.18,824.85 153.52,825.04 153.87,825.22 154.21,825.41 154.56,826.03 154.90,826.72 155.25,827.42 155.60,826.81 155.94,825.68 156.29,824.55 156.64,824.46 156.98,825.16 157.33,825.86 157.68,826.11 158.02,825.75 158.37,825.39 158.72,825.19 159.06,825.37 159.41,825.54 159.76,825.65 160.10,825.32 160.45,824.99 160.79,824.66 161.14,824.26 161.48,823.86 161.83,823.46 162.18,823.83 162.52,824.33 162.87,824.84 163.21,824.44 163.56,823.68 163.91,822.93 164.25,823.21 164.60,824.27 164.95,825.34 165.30,825.90 165.65,825.80 166.00,825.69 166.35,825.46 166.70,824.89 167.05,824.33 167.40,823.88 167.75,824.07 168.10,824.26 168.45,824.45 168.80,824.42 169.15,824.40 169.50,824.37 169.85,824.85 170.20,825.41 170.55,825.98 170.90,825.29 171.24,824.09 171.59,822.89 171.94,822.56 172.29,822.88" fill="none" stroke="#000" stroke-width="2.35" stroke-linejoin="round" stroke-linecap="round"/>
<polyline points="79.40,750.00 79.45,749.65 79.50,749.31 79.56,748.96 79.61,748.62 79.66,748.27 79.71,747.92 79.76,747.58 79.82,747.23 79.87,746.88 79.92,746.54 79.97,746.19 80.02,745.85 80.07,745.50 80.13,745.15 80.18,744.81 80.23,744.46 80.28,744.12 80.33,743.77 80.39,743.42 80.44,743.08 80.49,742.73 80.54,742.39 80.59,742.04 80.65,741.69 80.70,741.35 80.75,741.00 80.79,740.65 80.84,740.31 80.89,739.96 80.94,739.61 80.99,739.27 81.03,738.92 81.08,738.57 81.13,738.23 81.18,737.88 81.23,737.53 81.28,737.19 81.33,736.84 81.38,736.49 81.43,736.15 81.48,735.80 81.54,735.46 81.59,735.11 81.65,734.77 81.72,734.42 81.78,734.08 81.85,733.74 81.92,733.39 81.99,733.05 82.06,732.71 82.13,732.36 82.20,732.02 82.27,731.68 82.34,731.33 82.41,730.99 82.48,730.65 82.55,730.31 82.62,729.96 82.70,729.62 82.78,729.28 82.86,728.94 82.95,728.60 83.05,728.27 83.16,727.93 83.28,727.61 83.45,727.30 83.72,727.10 84.02,727.26 84.24,727.53 84.42,727.83 84.58,728.14 84.72,728.46 84.85,728.79 84.97,729.12 85.09,729.45 85.20,729.78 85.31,730.11 85.42,730.44 85.53,730.77 85.63,731.11 85.72,731.45 85.79,731.79 85.86,732.13 85.92,732.48 85.98,732.82 86.03,733.17 86.08,733.52 86.14,733.86 86.19,734.21 86.24,734.55 86.29,734.90 86.34,735.25 86.39,735.59 86.44,735.94 86.50,736.28 86.55,736.63 86.61,736.98 86.67,737.32 86.73,737.66 86.80,738.01 86.88,738.35 86.95,738.69 87.03,739.03 87.11,739.37 87.20,739.71 87.28,740.05 87.37,740.39 87.46,740.73 87.54,741.07 87.64,741.41 87.73,741.74 87.82,742.08 87.92,742.42 88.02,742.75 88.12,743.09 88.22,743.42 88.32,743.76 88.42,744.09 88.53,744.43 88.63,744.76 88.73,745.10 88.84,745.43 88.94,745.76 89.05,746.10 89.15,746.43 89.25,746.77 89.35,747.10 89.45,747.44 89.55,747.77 89.65,748.11 89.75,748.45 89.84,748.78 89.93,749.12 90.03,749.46 90.12,749.80 90.21,750.13 90.30,750.47 90.39,750.81 90.49,751.15 90.58,751.48 90.67,751.82 90.76,752.16 90.86,752.50 90.95,752.84 91.04,753.17 91.13,753.51 91.22,753.85 91.32,754.19 91.41,754.52 91.50,754.86 91.59,755.20 91.68,755.54 91.77,755.87 91.87,756.21 91.96,756.55 92.05,756.89 92.14,757.23 92.23,757.56 92.32,757.90 92.41,758.24 92.50,758.58 92.59,758.92 92.68,759.26 92.77,759.59 92.86,759.93 92.95,760.27 93.03,760.61 93.12,760.95 93.21,761.29 93.30,761.63 93.39,761.96 93.47,762.30 93.56,762.64 93.65,762.98 93.74,763.32 93.82,763.66 93.91,764.00 93.99,764.34 94.08,764.68 94.16,765.02 94.25,765.36 94.33,765.70 94.42,766.04 94.50,766.38 94.59,766.72 94.67,767.06 94.75,767.40 94.84,767.74 94.92,768.08 95.00,768.42 95.08,768.76 95.16,769.10 95.24,769.44 95.32,769.78 95.40,770.12 95.48,770.46 95.55,770.80 95.63,771.14 95.71,771.49 95.78,771.83 95.86,772.17 95.94,772.51 96.01,772.85 96.09,773.19 96.16,773.54 96.24,773.88 96.31,774.22 96.39,774.56 96.46,774.90 96.54,775.25 96.61,775.59 96.69,775.93 96.76,776.27 96.84,776.61 96.91,776.95 96.99,777.30 97.06,777.64 97.14,777.98 97.22,778.32 97.29,778.66 97.37,779.00 97.45,779.34 97.53,779.69 97.61,780.03 97.68,780.37 97.76,780.71 97.84,781.05 97.92,781.39 98.00,781.73 98.07,782.07 98.15,782.42 98.23,782.76 98.30,783.10 98.38,783.44 98.46,783.78 98.54,784.12 98.62,784.46 98.70,784.80 98.78,785.15 98.86,785.49 98.94,785.83 99.02,786.17 99.11,786.51 99.19,786.84 99.28,787.18 99.37,787.52 99.46,787.86 99.56,788.20 99.65,788.53 99.75,788.87 99.85,789.20 99.96,789.54 100.06,789.87 100.17,790.21 100.28,790.54 100.39,790.87 100.50,791.20 100.62,791.53 100.73,791.86 100.85,792.19 100.97,792.52 101.08,792.85 101.20,793.18 101.32,793.51 101.44,793.84 101.56,794.17 101.67,794.50 101.79,794.83 101.90,795.16 102.01,795.49 102.12,795.83 102.23,796.16 102.34,796.49 102.44,796.83 102.54,797.16 102.64,797.50 102.74,797.83 102.83,798.17 102.93,798.51 103.02,798.84 103.11,799.18 103.20,799.52 103.28,799.86 103.37,800.20 103.45,800.54 103.54,800.88 103.62,801.22 103.71,801.56 103.79,801.90 103.87,802.24 103.95,802.58 104.04,802.92 104.12,803.27 104.20,803.61 104.29,803.94 104.37,804.28 104.45,804.64 104.54,805.00 104.62,805.37 104.71,805.75 104.79,806.14 104.88,806.54 104.96,806.94 105.05,807.35 105.13,807.73 105.21,807.90 105.29,808.03 105.36,808.14 105.44,808.40 105.52,808.66 105.60,808.90 105.68,809.30 105.77,809.73 105.85,810.17 105.94,810.50 106.03,810.78 106.13,811.06 106.23,811.48 106.34,812.03 106.46,812.60 106.60,813.09 106.75,813.46 106.90,813.83 107.05,814.09 107.21,814.07 107.38,814.01 107.55,813.96 107.73,814.18 107.92,814.40 108.11,814.61 108.31,815.03 108.52,815.46 108.72,815.90 108.94,816.43 109.15,817.00 109.37,817.59 109.59,818.02 109.80,818.40 110.02,818.78 110.23,818.94 110.44,818.93 110.65,818.89 110.87,819.06 111.09,819.53 111.31,820.01 111.54,820.54 111.77,821.16 112.00,821.81 112.23,822.37 112.46,822.58 112.70,822.80 112.93,823.02 113.15,822.31 113.38,821.61 113.60,820.91 113.81,821.70 114.02,822.74 114.23,823.78 114.43,824.52 114.62,825.13 114.81,825.76 114.99,826.36 115.17,826.94 115.34,827.53 115.51,827.57 115.69,826.89 115.86,826.21 116.03,825.72 116.20,825.69 116.37,825.66 116.54,825.74 116.71,826.45 116.89,827.16 117.07,827.86 117.25,828.03 117.44,828.19 117.63,828.35 117.83,828.65 118.04,828.96 118.26,829.26 118.48,830.10 118.70,831.16 118.94,832.21 119.17,832.55 119.41,832.34 119.65,832.14 119.89,832.14 120.14,832.42 120.40,832.70 120.65,832.95 120.91,833.15 121.17,833.35 121.43,833.46 121.70,833.04 121.97,832.61 122.24,832.19 122.51,832.30 122.78,832.41 123.06,832.52 123.34,833.08 123.62,833.72 123.90,834.35 124.19,835.08 124.49,835.86 124.78,836.62 125.08,836.90 125.39,836.82 125.69,836.73 126.00,836.83 126.31,837.17 126.62,837.51 126.94,837.73 127.25,837.67 127.57,837.60 127.89,837.59 128.21,837.94 128.53,838.29 128.85,838.64 129.17,839.49 129.49,840.34 129.81,841.19 130.13,840.74 130.46,840.08 130.78,839.41 131.10,839.45 131.43,839.77 131.75,840.09 132.08,840.62 132.40,841.32 132.73,842.01 133.05,842.15 133.38,841.56 133.71,840.97 134.03,840.61 134.36,840.83 134.68,841.05 135.01,841.12 135.33,840.32 135.66,839.51 135.98,838.71 136.31,838.79 136.63,838.87 136.95,838.95 137.28,840.04 137.60,841.30 137.93,842.56 138.25,842.39 138.58,841.65 138.90,840.91 139.23,840.71 139.55,840.92 139.88,841.13 140.21,841.21 140.54,841.11 140.87,841.01 141.20,841.16 141.53,841.91 141.86,842.66 142.19,843.22 142.52,842.56 142.85,841.90 143.18,841.25 143.51,842.33 143.85,843.42 144.18,844.51 144.51,844.20 144.85,843.67 145.19,843.13 145.52,843.45 145.86,844.11 146.19,844.78 146.53,845.24 146.87,845.54 147.21,845.84 147.54,845.94 147.88,845.74 148.22,845.55 148.56,845.34 148.90,845.08 149.24,844.82 149.59,844.64 149.93,844.97 150.27,845.30 150.61,845.63 150.96,845.99 151.30,846.35 151.64,846.70 151.99,846.81 152.33,846.88 152.68,846.94 153.02,846.29 153.37,845.36 153.71,844.42 154.06,844.01 154.40,843.97 154.75,843.94 155.09,844.42 155.44,845.59 155.78,846.76 156.13,847.52 156.47,847.25 156.82,846.98 157.16,846.66 157.51,846.00 157.85,845.34 158.20,844.69 158.55,845.36 158.89,846.03 159.24,846.71 159.58,846.89 159.93,846.98 160.28,847.08 160.62,846.88 160.97,846.56 161.32,846.24 161.66,846.56 162.01,847.37 162.35,848.18 162.70,848.31 163.05,847.53 163.39,846.75 163.74,846.16 164.09,846.07 164.44,845.97 164.79,845.90 165.14,846.12 165.49,846.33 165.84,846.54 166.19,846.57 166.54,846.61 166.89,846.64 167.24,847.24 167.59,847.93 167.94,848.61 168.29,848.59 168.64,848.29 168.99,847.99 169.34,847.27 169.69,846.23 170.04,845.19 170.39,844.87 170.73,845.52 171.08,846.17 171.43,846.51 171.78,846.10 172.13,845.68 172.47,845.43" fill="none" stroke="#000" stroke-width="2.35" stroke-linejoin="round" stroke-linecap="round"/>
<polyline points="79.40,750.00 79.43,749.65 79.46,749.30 79.48,748.95 79.51,748.60 79.54,748.26 79.57,747.91 79.60,747.56 79.63,747.21 79.66,746.86 79.68,746.51 79.71,746.16 79.74,745.81 79.77,745.47 79.80,745.12 79.84,744.77 79.87,744.42 79.90,744.07 79.93,743.72 79.96,743.37 79.99,743.03 80.02,742.68 80.06,742.33 80.09,741.98 80.12,741.63 80.16,741.28 80.19,740.93 80.23,740.59 80.26,740.24 80.30,739.89 80.33,739.54 80.37,739.19 80.41,738.85 80.45,738.50 80.48,738.15 80.52,737.80 80.56,737.45 80.60,737.11 80.64,736.76 80.69,736.41 80.73,736.06 80.77,735.72 80.81,735.37 80.86,735.02 80.90,734.68 80.95,734.33 80.99,733.98 81.04,733.63 81.09,733.29 81.13,732.94 81.18,732.59 81.23,732.25 81.28,731.90 81.33,731.55 81.38,731.21 81.44,730.86 81.49,730.52 81.54,730.17 81.60,729.82 81.65,729.48 81.70,729.13 81.75,728.79 81.81,728.44 81.86,728.09 81.91,727.75 81.96,727.40 82.01,727.05 82.05,726.71 82.10,726.36 82.15,726.02 82.20,725.67 82.25,725.32 82.30,724.98 82.35,724.63 82.40,724.28 82.44,723.94 82.49,723.59 82.54,723.24 82.60,722.90 82.65,722.55 82.70,722.20 82.75,721.86 82.81,721.51 82.87,721.17 82.92,720.82 82.98,720.48 83.05,720.13 83.11,719.79 83.18,719.45 83.26,719.11 83.34,718.76 83.43,718.43 83.55,718.10 83.69,717.78 83.97,717.60 84.30,717.71 84.58,717.91 84.83,718.16 85.04,718.44 85.24,718.72 85.43,719.02 85.60,719.32 85.77,719.63 85.93,719.94 86.09,720.26 86.24,720.57 86.39,720.89 86.54,721.20 86.68,721.52 86.83,721.84 86.97,722.16 87.10,722.49 87.22,722.82 87.33,723.15 87.43,723.48 87.53,723.82 87.63,724.15 87.72,724.49 87.81,724.83 87.89,725.17 87.97,725.51 88.05,725.85 88.13,726.19 88.21,726.53 88.28,726.88 88.36,727.22 88.43,727.56 88.50,727.90 88.57,728.25 88.64,728.59 88.71,728.93 88.78,729.28 88.85,729.62 88.91,729.96 88.98,730.31 89.04,730.65 89.11,730.99 89.17,731.34 89.24,731.68 89.30,732.03 89.37,732.37 89.43,732.71 89.49,733.06 89.56,733.40 89.62,733.75 89.68,734.09 89.74,734.44 89.80,734.78 89.86,735.13 89.92,735.47 89.98,735.82 90.03,736.16 90.08,736.51 90.13,736.86 90.18,737.20 90.22,737.55 90.27,737.90 90.31,738.24 90.35,738.59 90.39,738.94 90.43,739.29 90.46,739.64 90.50,739.98 90.53,740.33 90.55,740.68 90.58,741.03 90.60,741.38 90.62,741.73 90.64,742.08 90.66,742.43 90.68,742.78 90.70,743.13 90.72,743.48 90.74,743.83 90.75,744.18 90.77,744.52 90.79,744.87 90.81,745.22 90.82,745.57 90.84,745.92 90.86,746.27 90.87,746.62 90.89,746.97 90.91,747.32 90.92,747.67 90.94,748.02 90.96,748.37 90.98,748.72 90.99,749.07 91.01,749.42 91.04,749.77 91.06,750.12 91.08,750.47 91.10,750.82 91.13,751.17 91.16,751.51 91.19,751.86 91.23,752.21 91.27,752.56 91.31,752.91 91.36,753.25 91.40,753.60 91.45,753.95 91.49,754.29 91.54,754.64 91.59,754.99 91.64,755.33 91.69,755.68 91.75,756.02 91.80,756.37 91.86,756.72 91.92,757.06 91.98,757.41 92.04,757.75 92.11,758.09 92.17,758.44 92.24,758.78 92.31,759.12 92.39,759.47 92.46,759.81 92.54,760.15 92.62,760.49 92.70,760.83 92.79,761.17 92.87,761.51 92.96,761.85 93.06,762.18 93.15,762.52 93.24,762.86 93.34,763.19 93.44,763.53 93.53,763.87 93.63,764.20 93.73,764.54 93.82,764.88 93.92,765.21 94.01,765.55 94.10,765.89 94.18,766.23 94.27,766.57 94.35,766.91 94.43,767.25 94.51,767.59 94.59,767.93 94.66,768.27 94.73,768.62 94.81,768.96 94.88,769.30 94.95,769.64 95.02,769.99 95.10,770.33 95.17,770.67 95.24,771.01 95.32,771.36 95.39,771.70 95.46,772.04 95.53,772.38 95.61,772.72 95.68,773.07 95.75,773.41 95.83,773.75 95.90,774.09 95.97,774.44 96.05,774.78 96.12,775.12 96.20,775.46 96.27,775.80 96.34,776.15 96.42,776.49 96.49,776.83 96.57,777.17 96.64,777.51 96.72,777.86 96.79,778.20 96.87,778.54 96.95,778.88 97.02,779.22 97.10,779.56 97.18,779.90 97.26,780.25 97.33,780.59 97.41,780.93 97.49,781.27 97.57,781.61 97.65,781.95 97.73,782.29 97.81,782.63 97.89,782.97 97.97,783.31 98.05,783.66 98.13,784.00 98.21,784.34 98.29,784.68 98.37,785.02 98.45,785.36 98.54,785.70 98.62,786.04 98.70,786.38 98.78,786.72 98.87,787.06 98.95,787.40 99.03,787.74 99.12,788.08 99.20,788.42 99.29,788.76 99.37,789.10 99.46,789.44 99.54,789.78 99.63,790.11 99.72,790.45 99.80,790.79 99.89,791.13 99.98,791.47 100.07,791.81 100.16,792.15 100.25,792.48 100.34,792.82 100.44,793.16 100.53,793.50 100.62,793.83 100.71,794.17 100.81,794.51 100.90,794.85 100.99,795.18 101.09,795.52 101.18,795.86 101.28,796.20 101.37,796.53 101.46,796.87 101.56,797.21 101.65,797.54 101.74,797.88 101.83,798.22 101.93,798.56 102.02,798.90 102.11,799.23 102.20,799.54 102.29,799.86 102.38,800.18 102.47,800.51 102.55,800.86 102.64,801.24 102.73,801.62 102.81,802.00 102.89,802.37 102.98,802.74 103.06,803.10 103.14,803.43 103.22,803.76 103.30,804.09 103.37,804.43 103.45,804.76 103.53,805.09 103.60,805.45 103.68,805.81 103.76,806.18 103.83,806.39 103.91,806.57 103.98,806.74 104.06,807.10 104.13,807.54 104.21,807.98 104.29,808.34 104.36,808.63 104.44,808.92 104.51,809.30 104.59,809.81 104.67,810.34 104.75,810.79 104.83,811.04 104.91,811.28 104.99,811.55 105.07,812.08 105.15,812.61 105.24,813.15 105.32,813.41 105.41,813.66 105.50,813.91 105.59,814.49 105.69,815.15 105.78,815.83 105.88,816.13 105.99,816.28 106.09,816.41 106.20,816.35 106.31,816.11 106.42,815.85 106.53,816.01 106.65,816.80 106.76,817.61 106.88,818.23 107.00,818.32 107.13,818.40 107.25,818.47 107.37,818.54 107.50,818.61 107.62,818.66 107.74,819.32 107.87,820.00 107.99,820.70 108.11,821.40 108.23,822.11 108.35,822.84 108.47,823.26 108.58,823.56 108.70,823.86 108.81,823.74 108.92,823.28 109.03,822.80 109.14,822.70 109.24,823.12 109.35,823.56 109.46,824.13 109.57,825.07 109.67,826.03 109.78,826.97 109.88,827.68 109.99,828.39 110.09,829.09 110.20,828.24 110.30,827.38 110.40,826.52 110.50,826.70 110.60,827.05 110.71,827.40 110.81,828.45 110.91,829.78 111.01,831.11 111.10,831.71 111.20,831.75 111.30,831.80 111.39,832.08 111.49,832.68 111.58,833.28 111.66,833.57 111.75,833.09 111.84,832.61 111.92,832.31 112.01,833.04 112.09,833.78 112.18,834.51 112.26,835.54 112.35,836.57 112.44,837.60 112.52,837.32 112.61,836.82 112.70,836.32 112.79,836.43 112.88,836.79 112.98,837.15 113.08,837.22 113.18,837.06 113.29,836.90 113.40,837.39 113.52,838.75 113.64,840.09 113.77,841.02 113.91,840.87 114.05,840.72 114.19,840.62 114.34,840.85 114.49,841.07 114.65,841.29 114.81,842.12 114.97,842.95 115.14,843.77 115.30,844.26 115.47,844.68 115.63,845.11 115.80,845.71 115.96,846.38 116.11,847.06 116.27,846.93 116.42,846.20 116.56,845.48 116.71,845.35 116.84,846.03 116.98,846.71 117.11,847.20 117.25,847.23 117.38,847.26 117.51,847.42 117.65,848.34 117.78,849.27 117.92,850.19 118.06,850.45 118.21,850.71 118.36,850.97 118.52,851.12 118.68,851.25 118.85,851.38 119.02,851.79 119.20,852.31 119.38,852.83 119.56,852.98 119.74,852.86 119.93,852.73 120.12,852.82 120.31,853.20 120.50,853.57 120.70,853.77 120.89,853.51 121.09,853.25 121.29,853.18 121.48,854.20 121.68,855.22 121.87,856.24 122.07,855.97 122.26,855.70 122.45,855.43 122.63,855.96 122.82,856.63 123.00,857.29 123.19,856.82 123.38,855.90 123.57,854.98 123.77,855.32 123.97,856.60 124.18,857.87 124.39,858.84 124.62,859.40 124.86,859.95 125.12,860.40 125.39,860.65 125.66,860.88 125.94,861.10 126.23,861.21 126.52,861.31 126.81,861.41 127.12,861.17 127.42,860.93 127.72,860.68 128.03,861.25 128.34,861.96 128.64,862.67 128.95,863.11 129.25,863.44 129.55,863.79 129.84,863.90 130.13,863.86 130.42,863.81 130.70,863.75 130.98,863.67 131.27,863.60 131.55,863.52 131.82,863.43 132.10,863.34 132.38,863.37 132.66,864.13 132.94,864.88 133.21,865.63 133.49,864.75 133.77,863.87 134.06,862.98 134.34,864.38 134.62,866.16 134.91,867.94 135.20,868.05 135.49,867.49 135.78,866.93 136.07,866.75 136.36,866.84 136.66,866.94 136.95,867.17 137.25,867.58 137.54,868.00 137.84,868.21 138.14,867.93 138.43,867.65 138.73,867.59 139.03,868.82 139.32,870.05 139.62,871.28 139.92,871.59 140.21,871.90 140.51,872.22 140.80,872.24 141.10,872.22 141.40,872.20 141.69,872.09 141.99,871.95 142.28,871.80 142.58,872.12 142.88,872.80 143.17,873.47 143.47,873.59 143.77,872.96 144.07,872.32 144.37,871.97 144.67,872.33 144.97,872.68 145.28,872.96 145.58,872.74 145.88,872.52 146.19,872.30 146.49,872.81 146.80,873.32 147.10,873.83 147.41,874.63 147.72,875.47 148.02,876.30 148.33,876.41 148.64,876.22 148.95,876.02 149.27,875.94 149.58,875.94 149.90,875.93 150.21,875.99 150.53,876.12 150.85,876.25 151.17,876.42 151.49,876.69 151.82,876.96 152.14,877.20 152.46,877.30 152.79,877.39 153.11,877.49 153.44,877.41 153.76,877.33 154.09,877.25 154.41,877.43 154.73,877.65 155.06,877.88 155.38,877.64 155.70,877.22 156.02,876.80 156.34,876.97 156.66,877.56 156.98,878.16 157.30,878.69 157.62,879.14 157.95,879.59 158.27,879.78 158.59,879.31 158.92,878.84 159.24,878.46 159.57,878.66 159.89,878.85 160.22,879.04 160.55,879.87 160.88,880.70 161.21,881.53 161.53,880.99 161.86,880.22 162.19,879.45 162.52,879.37 162.85,879.56 163.18,879.75 163.52,880.36 163.85,881.29 164.19,882.20 164.54,882.35 164.88,881.49 165.23,880.61 165.57,880.06 165.92,880.35 166.26,880.64 166.61,881.02 166.96,881.88 167.30,882.74 167.65,883.60 168.00,882.98 168.35,882.36 168.69,881.73 169.04,882.14 169.39,882.71 169.74,883.29 170.09,883.42 170.44,883.38 170.78,883.34 171.13,882.76 171.48,881.79 171.83,880.81 172.18,880.26 172.53,880.28 172.88,880.29 173.23,880.64" fill="none" stroke="#000" stroke-width="2.35" stroke-linejoin="round" stroke-linecap="round"/>
<polygon points="264.00,739.37 264.70,740.23 265.40,739.39 266.10,740.10 266.80,739.65 267.50,739.87 268.20,740.26 268.90,739.62 269.60,739.44 270.30,739.60 271.00,740.52 271.70,739.97 272.40,739.60 273.10,739.40 273.80,739.30 274.50,739.67 275.20,740.06 275.90,739.84 275.90,746.00 275.20,745.68 274.50,745.64 273.80,745.13 273.10,746.08 272.40,745.48 271.70,746.02 271.00,745.71 270.30,745.04 269.60,745.99 268.90,746.13 268.20,745.96 267.50,745.02 266.80,746.01 266.10,745.38 265.40,745.70 264.70,746.29 264.00,746.04" fill="#5a5a5a" stroke="#5a5a5a" stroke-width="0.6" stroke-linejoin="round"/>
<polyline points="275.9,744 276.6,715.4 277.3,742 277.9,730 278.6,724 279.1,744 278.7,750" fill="none" stroke="#5a5a5a" stroke-width="1.9" stroke-linejoin="round"/>
<polyline points="278.70,751.00 278.74,750.65 278.77,750.30 278.81,749.96 278.85,749.61 278.88,749.26 278.92,748.91 278.96,748.56 278.99,748.22 279.03,747.87 279.07,747.52 279.11,747.17 279.15,746.82 279.18,746.48 279.22,746.13 279.26,745.78 279.30,745.43 279.34,745.08 279.38,744.74 279.42,744.39 279.46,744.04 279.50,743.69 279.54,743.35 279.58,743.00 279.62,742.65 279.66,742.30 279.71,741.96 279.75,741.61 279.79,741.26 279.83,740.91 279.87,740.57 279.91,740.22 279.96,739.87 280.00,739.52 280.04,739.18 280.09,738.83 280.13,738.48 280.17,738.13 280.22,737.79 280.26,737.44 280.31,737.09 280.35,736.75 280.40,736.40 280.45,736.05 280.50,735.71 280.55,735.36 280.60,735.01 280.65,734.67 280.70,734.32 280.74,733.97 280.79,733.63 280.84,733.28 280.88,732.93 280.93,732.59 280.97,732.24 281.02,731.89 281.06,731.54 281.11,731.20 281.16,730.85 281.20,730.50 281.25,730.16 281.30,729.81 281.36,729.46 281.41,729.12 281.47,728.77 281.54,728.43 281.62,728.09 281.72,727.76 281.93,727.50 282.23,727.68 282.44,727.95 282.62,728.25 282.79,728.56 282.94,728.87 283.09,729.19 283.24,729.50 283.40,729.82 283.57,730.13 283.71,730.44 283.85,730.76 283.97,731.09 284.10,731.42 284.21,731.75 284.33,732.08 284.44,732.41 284.55,732.74 284.67,733.07 284.79,733.40 284.92,733.73 285.05,734.05 285.20,734.37 285.38,734.67 285.61,734.93 285.94,734.99 286.28,734.88 286.58,734.71 286.87,734.51 287.15,734.30 287.43,734.09 287.71,733.89 288.02,733.72 288.35,733.61 288.70,733.61 289.05,733.66 289.38,733.75 289.71,733.87 290.04,734.00 290.35,734.15 290.67,734.31 290.98,734.46 291.30,734.62 291.61,734.76 291.94,734.89 292.27,734.99 292.61,735.08 292.95,735.16 293.30,735.24 293.64,735.31 293.98,735.37 294.33,735.44 294.67,735.50 295.01,735.56 295.36,735.62 295.70,735.69 296.05,735.75 296.39,735.81 296.73,735.88 297.08,735.95 297.42,736.03 297.76,736.11 298.10,736.20 298.44,736.29 298.77,736.38 299.11,736.48 299.45,736.57 299.79,736.67 300.12,736.78 300.46,736.86 300.81,736.94 301.15,737.00 301.49,737.05 301.84,737.13 302.19,737.22 302.53,737.30 302.88,737.39 303.22,737.40 303.57,737.40 303.91,737.39 304.26,737.36 304.61,737.37 304.96,737.38 305.31,737.38 305.66,737.37 306.01,737.45 306.36,737.54 306.71,737.62 307.06,737.72 307.41,737.58 307.76,737.44 308.11,737.30 308.46,737.15 308.81,737.19 309.16,737.23 309.51,737.27 309.86,737.30 310.21,737.36 310.56,737.41 310.90,737.44 311.25,737.46 311.60,737.47 311.94,737.46 312.29,737.44 312.63,737.42 312.97,737.28 313.31,737.13 313.65,736.99 313.99,736.84 314.32,736.82 314.66,736.80 315.00,736.78 315.34,736.77 315.68,736.63 316.02,736.48 316.36,736.34 316.70,736.19 317.03,736.07 317.37,735.95 317.71,735.82 318.04,735.70 318.38,735.65 318.71,735.59 319.05,735.54 319.38,735.48 319.72,735.40 320.06,735.31 320.40,735.23 320.73,735.16 321.07,734.94 321.41,734.73 321.75,734.51 322.08,734.29 322.42,734.32 322.76,734.35 323.10,734.37 323.43,734.40 323.77,734.19 324.11,733.99 324.45,733.78 324.78,733.57 325.12,733.66 325.46,733.75 325.80,733.84 326.14,733.93 326.47,733.77 326.81,733.60 327.15,733.44 327.49,733.28 327.83,733.14 328.17,733.00 328.51,732.86 328.85,732.72 329.19,732.61 329.53,732.50 329.88,732.40 330.22,732.30 330.56,732.25 330.90,732.21 331.24,732.17 331.59,732.13 331.93,732.08 332.27,732.03 332.62,731.98 332.96,731.93 333.30,731.91 333.65,731.88 333.99,731.86 334.34,731.84 334.68,731.79 335.02,731.75 335.37,731.70 335.71,731.65 336.06,731.63 336.40,731.60 336.75,731.58 337.09,731.55 337.44,731.42 337.78,731.29 338.13,731.16 338.47,731.03 338.82,731.01 339.17,730.99 339.51,730.97 339.86,730.96 340.20,730.89 340.55,730.83 340.90,730.76 341.24,730.70 341.59,730.60 341.93,730.50 342.28,730.41 342.63,730.31 342.97,730.24 343.32,730.18 343.67,730.11 344.01,730.05 344.36,730.03 344.70,730.01 345.05,729.99 345.40,729.98 345.74,729.98 346.09,729.99 346.44,730.00 346.79,730.01 347.13,729.87 347.48,729.74 347.83,729.61 348.18,729.48 348.53,729.54 348.88,729.60 349.23,729.66 349.58,729.73 349.93,729.54 350.28,729.36 350.63,729.19 350.97,729.01 351.32,729.08 351.67,729.16 352.02,729.24 352.37,729.31 352.72,729.39 353.07,729.46 353.42,729.54 353.77,729.61 354.12,729.63 354.47,729.64 354.82,729.66 355.17,729.68 355.52,729.66 355.87,729.65 356.22,729.63 356.57,729.62 356.92,729.60 357.27,729.58 357.62,729.56 357.97,729.54 358.32,729.46 358.67,729.38 359.02,729.31 359.37,729.23 359.72,729.36 360.07,729.48 360.42,729.61 360.77,729.74 361.12,729.68 361.47,729.61 361.82,729.55 362.17,729.48 362.52,729.54 362.87,729.60 363.22,729.66 363.57,729.72 363.92,729.73 364.27,729.75 364.62,729.76 364.97,729.78 365.32,729.66 365.67,729.55 366.02,729.44 366.37,729.33 366.72,729.53 367.07,729.73 367.42,729.93 367.77,730.13 368.12,729.94 368.47,729.74 368.82,729.55 369.17,729.35 369.52,729.48 369.87,729.62 370.22,729.75 370.57,729.88 370.92,729.82 371.26,729.76 371.61,729.70 371.96,729.64 372.31,729.63 372.66,729.63 373.01,729.62" fill="none" stroke="#5a5a5a" stroke-width="1.9" stroke-linejoin="round" stroke-linecap="round"/>
<polyline points="278.70,751.00 278.73,750.65 278.75,750.30 278.78,749.95 278.80,749.60 278.83,749.25 278.85,748.91 278.88,748.56 278.90,748.21 278.93,747.86 278.95,747.51 278.98,747.16 279.01,746.81 279.03,746.46 279.06,746.11 279.08,745.76 279.11,745.42 279.14,745.07 279.16,744.72 279.19,744.37 279.22,744.02 279.24,743.67 279.27,743.32 279.30,742.97 279.33,742.62 279.35,742.27 279.38,741.93 279.41,741.58 279.44,741.23 279.46,740.88 279.49,740.53 279.52,740.18 279.55,739.83 279.58,739.48 279.61,739.13 279.63,738.79 279.66,738.44 279.69,738.09 279.72,737.74 279.75,737.39 279.78,737.04 279.81,736.69 279.84,736.34 279.86,736.00 279.89,735.65 279.92,735.30 279.95,734.95 279.98,734.60 280.00,734.25 280.03,733.90 280.06,733.55 280.09,733.20 280.12,732.86 280.15,732.51 280.18,732.16 280.21,731.81 280.24,731.46 280.27,731.11 280.30,730.76 280.33,730.42 280.37,730.07 280.40,729.72 280.44,729.37 280.48,729.02 280.52,728.67 280.56,728.33 280.60,727.98 280.65,727.63 280.70,727.29 280.74,726.94 280.79,726.59 280.84,726.25 280.89,725.90 280.93,725.55 280.98,725.21 281.03,724.86 281.08,724.51 281.13,724.17 281.18,723.82 281.23,723.47 281.28,723.13 281.33,722.78 281.38,722.43 281.44,722.09 281.49,721.74 281.55,721.40 281.61,721.05 281.68,720.71 281.74,720.37 281.81,720.02 281.89,719.68 281.98,719.34 282.07,719.01 282.19,718.68 282.37,718.38 282.69,718.35 282.95,718.57 283.16,718.86 283.33,719.16 283.49,719.47 283.64,719.79 283.77,720.11 283.90,720.44 284.03,720.76 284.16,721.09 284.28,721.42 284.40,721.74 284.53,722.07 284.64,722.40 284.74,722.74 284.84,723.07 284.93,723.41 285.02,723.75 285.10,724.09 285.18,724.43 285.26,724.77 285.33,725.12 285.41,725.46 285.48,725.80 285.55,726.14 285.62,726.49 285.68,726.83 285.75,727.17 285.81,727.52 285.88,727.86 285.94,728.21 286.00,728.55 286.07,728.89 286.13,729.24 286.19,729.58 286.25,729.93 286.31,730.27 286.38,730.62 286.44,730.96 286.50,731.31 286.56,731.65 286.62,732.00 286.68,732.34 286.74,732.68 286.80,733.03 286.86,733.37 286.92,733.72 286.97,734.07 287.02,734.41 287.07,734.76 287.12,735.11 287.16,735.45 287.21,735.80 287.25,736.15 287.30,736.49 287.35,736.84 287.39,737.19 287.44,737.53 287.49,737.88 287.54,738.23 287.59,738.57 287.65,738.92 287.72,739.26 287.79,739.60 287.88,739.94 288.00,740.27 288.13,740.60 288.27,740.92 288.42,741.23 288.59,741.54 288.77,741.84 288.97,742.13 289.17,742.41 289.39,742.68 289.61,742.96 289.83,743.23 290.05,743.51 290.25,743.79 290.43,744.09 290.61,744.39 290.78,744.70 290.95,745.00 291.11,745.31 291.28,745.62 291.44,745.93 291.60,746.24 291.76,746.55 291.92,746.87 292.08,747.18 292.23,747.49 292.39,747.80 292.55,748.12 292.70,748.43 292.86,748.74 293.02,749.06 293.18,749.37 293.34,749.68 293.50,749.99 293.66,750.30 293.82,750.61 293.98,750.92 294.15,751.23 294.32,751.53 294.49,751.84 294.66,752.14 294.84,752.45 295.02,752.75 295.19,753.05 295.37,753.35 295.55,753.65 295.74,753.95 295.92,754.25 296.10,754.55 296.28,754.85 296.46,755.15 296.64,755.45 296.81,755.75 296.99,756.05 297.16,756.36 297.34,756.66 297.50,756.97 297.67,757.28 297.83,757.59 297.99,757.90 298.15,758.21 298.31,758.52 298.46,758.84 298.62,759.15 298.77,759.47 298.92,759.78 299.07,760.10 299.22,760.41 299.37,760.73 299.52,761.04 299.67,761.36 299.83,761.67 299.98,761.99 300.13,762.30 300.28,762.62 300.43,762.95 300.59,763.27 300.75,763.59 300.90,763.89 301.06,764.17 301.23,764.45 301.39,764.73 301.56,765.04 301.73,765.36 301.91,765.68 302.09,766.00 302.28,766.27 302.47,766.54 302.67,766.81 302.88,767.06 303.10,767.37 303.31,767.67 303.53,767.98 303.75,768.30 303.97,768.56 304.20,768.81 304.42,769.06 304.65,769.31 304.88,769.53 305.12,769.73 305.36,769.93 305.60,770.12 305.84,770.39 306.09,770.66 306.35,770.92 306.60,771.18 306.87,771.43 307.14,771.67 307.42,771.91 307.70,772.14 307.99,772.36 308.29,772.56 308.60,772.75 308.92,772.93 309.23,773.00 309.55,773.07 309.87,773.14 310.19,773.21 310.51,773.43 310.84,773.65 311.17,773.86 311.50,774.05 311.84,774.18 312.19,774.28 312.53,774.36 312.88,774.42 313.23,774.33 313.58,774.22 313.93,774.09 314.27,773.94 314.61,773.82 314.95,773.68 315.29,773.54 315.63,773.40 315.96,773.31 316.30,773.23 316.63,773.13 316.96,773.02 317.28,772.99 317.59,772.94 317.90,772.89 318.21,772.84 318.52,772.63 318.83,772.42 319.13,772.21 319.44,772.01 319.75,771.78 320.07,771.55 320.38,771.33 320.70,771.11 321.01,770.97 321.33,770.82 321.65,770.68 321.96,770.54 322.28,770.50 322.60,770.47 322.92,770.44 323.23,770.41 323.55,770.24 323.87,770.06 324.19,769.89 324.50,769.71 324.82,769.57 325.14,769.42 325.46,769.28 325.77,769.13 326.09,768.89 326.40,768.64 326.72,768.39 327.04,768.14 327.35,768.14 327.67,768.13 327.98,768.13 328.29,768.12 328.61,767.83 328.92,767.55 329.23,767.26 329.54,766.97 329.85,766.82 330.16,766.68 330.47,766.53 330.78,766.38 331.09,766.20 331.39,766.01 331.70,765.82 332.01,765.63 332.31,765.58 332.62,765.54 332.92,765.49 333.23,765.44 333.53,765.22 333.84,764.99 334.14,764.76 334.44,764.53 334.75,764.34 335.05,764.15 335.35,763.96 335.65,763.77 335.95,763.56 336.25,763.36 336.55,763.15 336.85,762.94 337.15,762.81 337.44,762.68 337.74,762.55 338.04,762.42 338.33,762.19 338.63,761.96 338.92,761.72 339.22,761.49 339.51,761.30 339.80,761.10 340.10,760.91 340.39,760.71 340.68,760.46 340.96,760.21 341.25,759.96 341.54,759.70 341.82,759.61 342.11,759.53 342.39,759.44 342.67,759.35 342.95,759.01 343.23,758.67 343.51,758.32 343.79,757.98 344.07,757.91 344.35,757.85 344.63,757.78 344.90,757.72 345.18,757.50 345.46,757.29 345.73,757.08 346.01,756.86 346.28,756.58 346.56,756.30 346.84,756.01 347.11,755.73 347.39,755.45 347.66,755.17 347.94,754.89 348.22,754.62 348.50,754.41 348.77,754.21 349.05,754.01 349.33,753.81 349.61,753.58 349.89,753.36 350.17,753.13 350.45,752.91 350.73,752.80 351.01,752.69 351.29,752.58 351.57,752.47 351.86,752.20 352.14,751.93 352.42,751.66 352.70,751.40 352.98,751.30 353.26,751.20 353.54,751.10 353.82,751.00 354.11,750.68 354.39,750.36 354.67,750.04 354.95,749.72 355.24,749.51 355.52,749.30 355.80,749.09 356.07,748.87 356.35,748.72 356.63,748.57 356.90,748.41 357.18,748.26 357.46,748.08 357.74,747.91 358.02,747.73 358.30,747.56 358.58,747.30 358.87,747.04 359.16,746.78 359.45,746.53 359.75,746.28 360.05,746.02 360.36,745.78 360.67,745.54 360.98,745.39 361.29,745.24 361.60,745.09 361.92,744.95 362.24,744.90 362.56,744.85 362.88,744.80 363.20,744.76 363.52,744.64 363.85,744.51 364.17,744.39 364.50,744.28 364.83,744.20 365.16,744.12 365.49,744.04 365.82,743.96 366.15,743.77 366.48,743.59 366.81,743.40 367.14,743.22 367.47,743.15 367.81,743.08 368.14,743.01 368.47,742.94 368.81,742.82 369.14,742.70 369.48,742.58 369.82,742.46 370.15,742.35 370.49,742.23 370.83,742.12 371.17,742.01 371.51,741.97 371.85,741.94 372.19,741.90 372.53,741.87 372.87,741.70 373.22,741.52" fill="none" stroke="#5a5a5a" stroke-width="1.9" stroke-linejoin="round" stroke-linecap="round"/>
<polyline points="278.70,751.00 278.74,750.65 278.77,750.30 278.81,749.96 278.85,749.61 278.88,749.26 278.92,748.91 278.96,748.56 278.99,748.22 279.03,747.87 279.07,747.52 279.11,747.17 279.15,746.82 279.18,746.48 279.22,746.13 279.26,745.78 279.30,745.43 279.34,745.08 279.38,744.74 279.42,744.39 279.46,744.04 279.50,743.69 279.54,743.35 279.58,743.00 279.62,742.65 279.66,742.30 279.71,741.96 279.75,741.61 279.79,741.26 279.83,740.91 279.87,740.57 279.91,740.22 279.96,739.87 280.00,739.52 280.04,739.18 280.09,738.83 280.13,738.48 280.17,738.13 280.22,737.79 280.26,737.44 280.31,737.09 280.35,736.75 280.40,736.40 280.45,736.05 280.50,735.71 280.55,735.36 280.60,735.01 280.65,734.67 280.70,734.32 280.74,733.97 280.79,733.63 280.84,733.28 280.88,732.93 280.93,732.59 280.97,732.24 281.02,731.89 281.06,731.54 281.11,731.20 281.16,730.85 281.20,730.50 281.25,730.16 281.30,729.81 281.36,729.46 281.41,729.12 281.47,728.77 281.54,728.43 281.62,728.09 281.72,727.76 281.93,727.50 282.24,727.65 282.48,727.90 282.67,728.20 282.84,728.50 283.00,728.81 283.14,729.13 283.28,729.45 283.41,729.78 283.53,730.11 283.63,730.44 283.70,730.79 283.76,731.13 283.82,731.48 283.88,731.82 283.93,732.17 283.98,732.51 284.03,732.86 284.07,733.21 284.12,733.55 284.17,733.90 284.21,734.25 284.26,734.60 284.30,734.94 284.35,735.29 284.40,735.64 284.45,735.98 284.50,736.33 284.55,736.67 284.60,737.02 284.67,737.36 284.74,737.71 284.81,738.05 284.90,738.39 284.99,738.73 285.09,739.06 285.19,739.40 285.29,739.73 285.40,740.06 285.52,740.39 285.64,740.72 285.76,741.05 285.89,741.38 286.02,741.70 286.16,742.02 286.30,742.34 286.44,742.66 286.58,742.98 286.73,743.30 286.87,743.62 287.01,743.94 287.15,744.26 287.28,744.59 287.41,744.91 287.53,745.24 287.65,745.57 287.77,745.90 287.88,746.23 287.99,746.57 288.09,746.90 288.20,747.23 288.30,747.57 288.40,747.90 288.51,748.24 288.61,748.57 288.71,748.91 288.80,749.24 288.90,749.58 289.00,749.92 289.10,750.25 289.19,750.59 289.29,750.92 289.39,751.26 289.48,751.60 289.58,751.93 289.67,752.27 289.77,752.61 289.86,752.95 289.95,753.28 290.05,753.62 290.14,753.96 290.24,754.29 290.33,754.63 290.42,754.97 290.52,755.31 290.61,755.64 290.70,755.98 290.79,756.32 290.88,756.66 290.97,757.00 291.06,757.33 291.15,757.67 291.24,758.01 291.33,758.35 291.42,758.69 291.51,759.03 291.60,759.36 291.69,759.70 291.78,760.04 291.86,760.38 291.95,760.72 292.04,761.06 292.13,761.40 292.22,761.73 292.31,762.07 292.39,762.41 292.48,762.75 292.57,763.09 292.66,763.43 292.75,763.77 292.84,764.11 292.92,764.44 293.01,764.78 293.10,765.12 293.19,765.46 293.28,765.80 293.37,766.14 293.46,766.47 293.55,766.81 293.64,767.15 293.73,767.49 293.83,767.83 293.92,768.16 294.01,768.50 294.10,768.84 294.19,769.18 294.29,769.51 294.38,769.85 294.47,770.19 294.56,770.53 294.65,770.87 294.74,771.20 294.83,771.54 294.93,771.88 295.02,772.22 295.11,772.55 295.20,772.89 295.29,773.23 295.38,773.57 295.48,773.91 295.57,774.24 295.66,774.58 295.75,774.92 295.85,775.26 295.94,775.59 296.03,775.93 296.13,776.27 296.22,776.60 296.32,776.94 296.41,777.28 296.51,777.62 296.60,777.95 296.70,778.29 296.79,778.63 296.89,778.96 296.99,779.30 297.09,779.63 297.19,779.97 297.29,780.30 297.39,780.64 297.49,780.98 297.59,781.31 297.69,781.65 297.79,781.98 297.90,782.31 298.00,782.65 298.11,782.98 298.22,783.31 298.32,783.65 298.43,783.98 298.54,784.31 298.65,784.65 298.76,784.98 298.87,785.31 298.98,785.64 299.09,785.97 299.21,786.30 299.32,786.64 299.43,786.97 299.55,787.30 299.66,787.63 299.78,787.96 299.89,788.29 300.01,788.62 300.13,788.95 300.24,789.28 300.36,789.61 300.48,789.94 300.59,790.27 300.71,790.60 300.83,790.93 300.94,791.26 301.05,791.59 301.17,791.92 301.28,792.25 301.40,792.58 301.52,792.91 301.64,793.24 301.76,793.57 301.88,793.90 302.01,794.22 302.15,794.54 302.29,794.86 302.44,795.18 302.59,795.49 302.75,795.81 302.92,796.12 303.08,796.42 303.25,796.73 303.43,797.03 303.61,797.33 303.79,797.63 303.98,797.93 304.17,798.22 304.36,798.51 304.56,798.80 304.76,799.09 304.97,799.37 305.18,799.65 305.40,799.92 305.61,800.18 305.84,800.45 306.06,800.71 306.29,800.99 306.52,801.26 306.76,801.53 307.00,801.81 307.24,802.09 307.49,802.36 307.74,802.59 308.00,802.81 308.26,803.02 308.52,803.22 308.79,803.43 309.06,803.62 309.33,803.81 309.60,803.99 309.87,804.17 310.15,804.34 310.42,804.50 310.71,804.66 310.99,804.87 311.28,805.08 311.57,805.28 311.86,805.49 312.16,805.80 312.46,806.13 312.77,806.45 313.08,806.78 313.40,806.75 313.71,806.72 314.03,806.68 314.34,806.65 314.66,807.05 314.97,807.44 315.29,807.84 315.61,808.22 315.93,808.33 316.26,808.43 316.59,808.52 316.92,808.60 317.26,808.55 317.60,808.48 317.95,808.39 318.30,808.27 318.65,808.22 319.00,808.15 319.35,808.07 319.69,807.97 320.04,808.02 320.39,808.06 320.74,808.09 321.08,808.11 321.42,808.19 321.77,808.27 322.11,808.34 322.45,808.41 322.79,808.00 323.13,807.59 323.47,807.18 323.81,806.77 324.15,806.80 324.49,806.83 324.82,806.84 325.15,806.84 325.48,806.67 325.81,806.49 326.13,806.30 326.45,806.11 326.77,806.16 327.09,806.21 327.41,806.26 327.72,806.30 328.04,806.31 328.35,806.32 328.66,806.33 328.97,806.33 329.28,805.94 329.58,805.56 329.89,805.17 330.19,804.78 330.49,804.48 330.79,804.17 331.08,803.87 331.38,803.56 331.67,803.61 331.96,803.66 332.26,803.71 332.55,803.76 332.84,803.48 333.13,803.19 333.43,802.90 333.72,802.61 334.01,802.51 334.30,802.42 334.60,802.32 334.89,802.22 335.19,801.86 335.48,801.49 335.77,801.13 336.07,800.76 336.36,800.50 336.65,800.24 336.95,799.98 337.24,799.72 337.53,799.42 337.82,799.11 338.12,798.80 338.41,798.50 338.70,798.45 338.99,798.41 339.28,798.36 339.57,798.31 339.86,798.17 340.15,798.02 340.44,797.87 340.72,797.72 341.01,797.61 341.29,797.51 341.57,797.40 341.86,797.30 342.14,797.00 342.42,796.71 342.71,796.42 342.99,796.12 343.28,795.86 343.56,795.60 343.85,795.34 344.14,795.08 344.43,795.08 344.72,795.08 345.02,795.08 345.32,795.09 345.62,794.83 345.92,794.57 346.23,794.32 346.53,794.06 346.84,793.89 347.15,793.71 347.46,793.54 347.77,793.37 348.07,793.27 348.38,793.17 348.69,793.06 349.00,792.96 349.30,792.78 349.61,792.60 349.91,792.41 350.21,792.22 350.51,791.88 350.80,791.53 351.10,791.18 351.40,790.82 351.69,790.85 351.98,790.87 352.28,790.89 352.57,790.91 352.86,790.41 353.15,789.91 353.45,789.41 353.74,788.91 354.03,788.72 354.33,788.53 354.62,788.34 354.92,788.16 355.22,788.19 355.52,788.23 355.82,788.26 356.12,788.30 356.42,788.10 356.72,787.90 357.02,787.71 357.32,787.51 357.62,787.23 357.93,786.94 358.23,786.66 358.53,786.37 358.83,786.34 359.13,786.30 359.43,786.26 359.72,786.21 360.02,785.85 360.32,785.48 360.62,785.12 360.92,784.76 361.22,784.69 361.52,784.62 361.83,784.55 362.13,784.48 362.43,784.45 362.72,784.41 363.02,784.37 363.31,784.33 363.60,784.11 363.89,783.90 364.17,783.67 364.44,783.44 364.72,783.13 364.98,782.82 365.23,782.49 365.47,782.14 365.70,781.93 365.91,781.71 366.13,781.49 366.33,781.27 366.54,780.98 366.74,780.69 366.95,780.40 367.16,780.12 367.37,779.68 367.59,779.24 367.83,778.82 368.07,778.41 368.33,778.35 368.58,778.30 368.84,778.25 369.09,778.20 369.35,777.89 369.62,777.59 369.88,777.28 370.15,776.99 370.43,776.76 370.70,776.54 370.98,776.33 371.27,776.12 371.56,776.03 371.85,775.95 372.15,775.88 372.46,775.82" fill="none" stroke="#5a5a5a" stroke-width="1.9" stroke-linejoin="round" stroke-linecap="round"/>
<polyline points="278.70,751.00 278.73,750.65 278.75,750.30 278.78,749.95 278.80,749.60 278.83,749.25 278.85,748.91 278.88,748.56 278.90,748.21 278.93,747.86 278.95,747.51 278.98,747.16 279.01,746.81 279.03,746.46 279.06,746.11 279.08,745.76 279.11,745.42 279.14,745.07 279.16,744.72 279.19,744.37 279.22,744.02 279.24,743.67 279.27,743.32 279.30,742.97 279.33,742.62 279.35,742.27 279.38,741.93 279.41,741.58 279.44,741.23 279.46,740.88 279.49,740.53 279.52,740.18 279.55,739.83 279.58,739.48 279.61,739.13 279.63,738.79 279.66,738.44 279.69,738.09 279.72,737.74 279.75,737.39 279.78,737.04 279.81,736.69 279.84,736.34 279.86,736.00 279.89,735.65 279.92,735.30 279.95,734.95 279.98,734.60 280.00,734.25 280.03,733.90 280.06,733.55 280.09,733.20 280.12,732.86 280.15,732.51 280.18,732.16 280.21,731.81 280.24,731.46 280.27,731.11 280.30,730.76 280.33,730.42 280.37,730.07 280.40,729.72 280.44,729.37 280.48,729.02 280.52,728.67 280.56,728.33 280.60,727.98 280.65,727.63 280.70,727.29 280.74,726.94 280.79,726.59 280.84,726.25 280.89,725.90 280.93,725.55 280.98,725.21 281.03,724.86 281.08,724.51 281.13,724.17 281.18,723.82 281.23,723.47 281.28,723.13 281.33,722.78 281.38,722.43 281.44,722.09 281.49,721.74 281.55,721.40 281.61,721.05 281.68,720.71 281.74,720.37 281.81,720.02 281.89,719.68 281.98,719.34 282.07,719.01 282.19,718.68 282.37,718.38 282.69,718.35 282.95,718.57 283.16,718.86 283.33,719.16 283.49,719.47 283.64,719.79 283.77,720.11 283.90,720.44 284.03,720.76 284.16,721.09 284.28,721.42 284.40,721.74 284.53,722.07 284.64,722.40 284.74,722.74 284.84,723.07 284.93,723.41 285.02,723.75 285.10,724.09 285.18,724.43 285.26,724.77 285.33,725.12 285.41,725.46 285.48,725.80 285.55,726.14 285.62,726.49 285.68,726.83 285.75,727.17 285.81,727.52 285.88,727.86 285.94,728.21 286.00,728.55 286.07,728.89 286.13,729.24 286.19,729.58 286.25,729.93 286.31,730.27 286.38,730.62 286.44,730.96 286.50,731.31 286.56,731.65 286.62,732.00 286.68,732.34 286.74,732.68 286.81,733.03 286.87,733.37 286.93,733.72 286.99,734.06 287.05,734.41 287.10,734.75 287.16,735.10 287.22,735.44 287.27,735.79 287.33,736.14 287.38,736.48 287.44,736.83 287.49,737.17 287.54,737.52 287.59,737.86 287.65,738.21 287.70,738.56 287.75,738.90 287.80,739.25 287.84,739.60 287.89,739.94 287.94,740.29 287.98,740.64 288.03,740.99 288.07,741.33 288.11,741.68 288.15,742.03 288.19,742.38 288.23,742.72 288.27,743.07 288.30,743.42 288.34,743.77 288.38,744.12 288.41,744.46 288.45,744.81 288.49,745.16 288.52,745.51 288.56,745.86 288.59,746.20 288.63,746.55 288.66,746.90 288.70,747.25 288.74,747.60 288.77,747.95 288.81,748.29 288.85,748.64 288.88,748.99 288.92,749.34 288.96,749.69 289.00,750.03 289.04,750.38 289.08,750.73 289.12,751.08 289.16,751.42 289.20,751.77 289.25,752.12 289.29,752.47 289.34,752.81 289.39,753.16 289.45,753.50 289.51,753.85 289.57,754.19 289.64,754.54 289.70,754.88 289.77,755.22 289.84,755.57 289.91,755.91 289.98,756.25 290.06,756.59 290.13,756.94 290.21,757.28 290.29,757.62 290.37,757.96 290.45,758.30 290.54,758.64 290.63,758.98 290.71,759.32 290.81,759.65 290.90,759.99 290.99,760.33 291.09,760.66 291.19,761.00 291.29,761.33 291.39,761.67 291.49,762.00 291.60,762.34 291.70,762.67 291.81,763.01 291.91,763.34 292.02,763.67 292.12,764.01 292.23,764.34 292.33,764.68 292.43,765.01 292.54,765.35 292.64,765.68 292.73,766.02 292.83,766.35 292.93,766.69 293.02,767.03 293.11,767.37 293.20,767.70 293.29,768.04 293.37,768.38 293.46,768.72 293.54,769.06 293.62,769.40 293.71,769.74 293.79,770.08 293.87,770.42 293.95,770.76 294.03,771.10 294.11,771.44 294.20,771.78 294.28,772.12 294.36,772.47 294.44,772.81 294.51,773.15 294.59,773.49 294.67,773.83 294.75,774.17 294.83,774.51 294.91,774.85 294.99,775.19 295.07,775.53 295.15,775.88 295.23,776.22 295.30,776.56 295.38,776.90 295.46,777.24 295.54,777.58 295.62,777.92 295.70,778.26 295.78,778.60 295.86,778.94 295.94,779.28 296.02,779.62 296.10,779.97 296.18,780.31 296.26,780.65 296.34,780.99 296.43,781.33 296.51,781.67 296.59,782.01 296.68,782.35 296.76,782.69 296.85,783.03 296.93,783.36 297.02,783.70 297.11,784.04 297.20,784.38 297.28,784.72 297.37,785.06 297.46,785.40 297.55,785.74 297.64,786.07 297.72,786.41 297.81,786.75 297.90,787.09 297.99,787.43 298.08,787.77 298.17,788.11 298.25,788.45 298.34,788.78 298.43,789.12 298.52,789.46 298.61,789.80 298.71,790.14 298.80,790.47 298.89,790.81 298.98,791.15 299.08,791.49 299.17,791.82 299.27,792.16 299.36,792.50 299.46,792.83 299.56,793.17 299.66,793.50 299.77,793.84 299.87,794.17 299.98,794.50 300.09,794.84 300.20,795.17 300.32,795.50 300.44,795.83 300.56,796.16 300.68,796.48 300.81,796.81 300.94,797.13 301.07,797.46 301.21,797.78 301.34,798.10 301.48,798.42 301.62,798.74 301.77,799.06 301.91,799.38 302.06,799.70 302.21,800.01 302.37,800.33 302.52,800.64 302.68,800.95 302.84,801.27 303.00,801.58 303.17,801.89 303.33,802.19 303.50,802.50 303.67,802.81 303.84,803.11 304.02,803.41 304.19,803.72 304.37,804.02 304.55,804.32 304.74,804.61 304.93,804.91 305.11,805.20 305.31,805.50 305.50,805.78 305.70,806.05 305.90,806.29 306.10,806.52 306.30,806.72 306.51,806.89 306.72,807.24 306.93,807.63 307.15,808.06 307.37,808.52 307.58,808.84 307.81,809.17 308.03,809.50 308.25,809.84 308.48,810.12 308.71,810.40 308.94,810.67 309.17,810.93 309.41,811.26 309.64,811.58 309.88,811.91 310.11,812.24 310.35,812.46 310.59,812.67 310.83,812.88 311.07,813.08 311.31,813.43 311.55,813.79 311.79,814.15 312.03,814.52 312.27,814.66 312.51,814.78 312.76,814.90 313.00,815.00 313.25,815.47 313.49,815.93 313.74,816.39 313.99,816.85 314.24,816.97 314.49,817.08 314.74,817.20 314.99,817.32 315.24,817.10 315.50,816.89 315.75,816.67 316.00,816.45 316.26,816.83 316.52,817.20 316.77,817.58 317.03,817.96 317.29,818.39 317.54,818.83 317.79,819.28 318.04,819.72 318.30,819.68 318.54,819.64 318.79,819.60 319.04,819.57 319.29,820.27 319.55,820.97 319.80,821.66 320.05,822.36 320.31,821.83 320.57,821.30 320.84,820.77 321.11,820.23 321.38,820.71 321.66,821.18 321.95,821.64 322.24,822.09 322.54,822.40 322.85,822.70 323.17,822.99 323.48,823.28 323.79,823.44 324.11,823.60 324.43,823.75 324.76,823.90 325.08,824.36 325.41,824.82 325.74,825.27 326.07,825.72 326.40,825.28 326.73,824.83 327.06,824.38 327.40,823.93 327.74,824.57 328.08,825.21 328.42,825.84 328.76,826.47 329.10,826.64 329.44,826.82 329.78,826.98 330.13,827.15 330.47,826.59 330.81,826.03 331.16,825.47 331.50,824.91 331.85,825.58 332.19,826.25 332.54,826.91 332.88,827.58 333.23,827.44 333.57,827.30 333.92,827.17 334.26,827.03 334.61,826.73 334.95,826.43 335.30,826.14 335.64,825.84 335.99,826.37 336.33,826.89 336.68,827.42 337.03,827.95 337.37,827.34 337.72,826.74 338.06,826.13 338.41,825.52 338.75,825.94 339.10,826.35 339.45,826.76 339.79,827.17 340.14,827.13 340.48,827.08 340.83,827.03 341.18,826.99 341.52,827.13 341.87,827.28 342.22,827.43 342.56,827.58 342.91,827.47 343.26,827.36 343.60,827.25 343.95,827.14 344.29,827.36 344.64,827.57 344.98,827.79 345.33,828.01 345.67,828.20 346.02,828.39 346.36,828.58 346.71,828.77 347.05,828.75 347.40,828.73 347.74,828.71 348.09,828.68 348.44,828.76 348.79,828.83 349.14,828.89 349.49,828.95 349.84,829.39 350.19,829.83 350.54,830.26 350.89,830.70 351.24,830.47 351.59,830.25 351.94,830.02 352.29,829.79 352.63,829.09 352.98,828.38 353.33,827.68 353.68,826.97 354.03,827.55 354.38,828.12 354.73,828.69 355.08,829.26 355.43,829.26 355.77,829.27 356.12,829.27 356.47,829.27 356.82,829.31 357.16,829.34 357.51,829.37 357.86,829.40 358.20,828.96 358.55,828.51 358.90,828.06 359.24,827.62 359.59,827.98 359.94,828.33 360.28,828.69 360.63,829.04 360.97,828.72 361.31,828.39 361.65,828.06 361.99,827.72 362.33,827.57 362.66,827.41 363.00,827.24 363.33,827.08 363.66,827.00 363.99,826.91 364.33,826.83 364.66,826.74 364.99,826.52 365.32,826.30 365.65,826.08 365.98,825.85 366.30,825.96 366.63,826.06 366.96,826.16 367.28,826.26 367.60,826.01 367.93,825.77 368.25,825.52 368.57,825.28 368.89,825.36 369.20,825.45 369.52,825.54 369.84,825.62 370.15,825.19 370.46,824.76 370.78,824.32 371.09,823.89 371.40,823.44 371.71,823.00 372.01,822.55 372.32,822.10 372.63,822.00" fill="none" stroke="#5a5a5a" stroke-width="1.9" stroke-linejoin="round" stroke-linecap="round"/>
<polyline points="278.70,751.00 278.74,750.65 278.77,750.30 278.81,749.96 278.85,749.61 278.88,749.26 278.92,748.91 278.96,748.56 278.99,748.22 279.03,747.87 279.07,747.52 279.11,747.17 279.15,746.82 279.18,746.48 279.22,746.13 279.26,745.78 279.30,745.43 279.34,745.08 279.38,744.74 279.42,744.39 279.46,744.04 279.50,743.69 279.54,743.35 279.58,743.00 279.62,742.65 279.66,742.30 279.71,741.96 279.75,741.61 279.79,741.26 279.83,740.91 279.87,740.57 279.91,740.22 279.96,739.87 280.00,739.52 280.04,739.18 280.09,738.83 280.13,738.48 280.17,738.13 280.22,737.79 280.26,737.44 280.31,737.09 280.35,736.75 280.40,736.40 280.45,736.05 280.50,735.71 280.55,735.36 280.60,735.01 280.65,734.67 280.70,734.32 280.74,733.97 280.79,733.63 280.84,733.28 280.88,732.93 280.93,732.59 280.97,732.24 281.02,731.89 281.06,731.54 281.11,731.20 281.16,730.85 281.20,730.50 281.25,730.16 281.30,729.81 281.36,729.46 281.41,729.12 281.47,728.77 281.54,728.43 281.62,728.09 281.72,727.76 281.93,727.50 282.24,727.64 282.49,727.89 282.69,728.18 282.86,728.48 283.01,728.80 283.15,729.12 283.29,729.44 283.41,729.77 283.52,730.10 283.61,730.44 283.66,730.78 283.71,731.13 283.76,731.48 283.80,731.82 283.84,732.17 283.88,732.52 283.92,732.87 283.95,733.22 283.99,733.56 284.02,733.91 284.06,734.26 284.09,734.61 284.13,734.96 284.16,735.31 284.20,735.65 284.24,736.00 284.27,736.35 284.31,736.70 284.36,737.04 284.40,737.39 284.46,737.74 284.52,738.08 284.58,738.43 284.65,738.77 284.72,739.11 284.79,739.45 284.87,739.80 284.95,740.14 285.03,740.48 285.11,740.82 285.19,741.16 285.28,741.50 285.37,741.84 285.46,742.17 285.56,742.51 285.65,742.85 285.75,743.18 285.86,743.52 285.96,743.85 286.07,744.18 286.18,744.52 286.28,744.85 286.39,745.18 286.51,745.51 286.62,745.85 286.73,746.18 286.83,746.51 286.94,746.84 287.05,747.18 287.15,747.51 287.25,747.85 287.35,748.18 287.46,748.52 287.56,748.85 287.66,749.19 287.77,749.52 287.87,749.85 287.98,750.19 288.08,750.52 288.19,750.85 288.30,751.19 288.40,751.52 288.51,751.85 288.61,752.19 288.72,752.52 288.82,752.86 288.92,753.19 289.02,753.53 289.12,753.86 289.22,754.20 289.31,754.54 289.41,754.87 289.50,755.21 289.60,755.55 289.69,755.88 289.79,756.22 289.88,756.56 289.98,756.90 290.07,757.23 290.16,757.57 290.25,757.91 290.34,758.25 290.44,758.58 290.53,758.92 290.62,759.26 290.71,759.60 290.80,759.94 290.89,760.27 290.98,760.61 291.07,760.95 291.15,761.29 291.24,761.63 291.33,761.97 291.42,762.31 291.51,762.64 291.59,762.98 291.68,763.32 291.77,763.66 291.86,764.00 291.94,764.34 292.03,764.68 292.12,765.02 292.20,765.36 292.29,765.70 292.38,766.03 292.46,766.37 292.55,766.71 292.64,767.05 292.72,767.39 292.81,767.73 292.89,768.07 292.98,768.41 293.06,768.75 293.15,769.09 293.23,769.43 293.31,769.77 293.40,770.11 293.48,770.45 293.56,770.79 293.65,771.13 293.73,771.47 293.81,771.81 293.89,772.15 293.97,772.49 294.05,772.83 294.13,773.17 294.21,773.51 294.29,773.85 294.37,774.19 294.45,774.54 294.53,774.88 294.61,775.22 294.69,775.56 294.77,775.90 294.85,776.24 294.93,776.58 295.01,776.92 295.09,777.26 295.17,777.60 295.25,777.94 295.33,778.28 295.41,778.62 295.49,778.97 295.57,779.31 295.65,779.65 295.73,779.99 295.81,780.33 295.89,780.67 295.97,781.01 296.05,781.35 296.14,781.69 296.22,782.03 296.30,782.37 296.38,782.71 296.47,783.05 296.55,783.39 296.63,783.73 296.72,784.07 296.80,784.41 296.89,784.75 296.97,785.09 297.06,785.43 297.14,785.77 297.23,786.11 297.31,786.45 297.40,786.79 297.48,787.13 297.57,787.46 297.65,787.80 297.74,788.14 297.82,788.48 297.91,788.82 298.00,789.16 298.08,789.50 298.17,789.84 298.26,790.18 298.34,790.52 298.43,790.86 298.52,791.20 298.61,791.53 298.69,791.87 298.78,792.21 298.87,792.55 298.96,792.89 299.05,793.23 299.14,793.56 299.23,793.90 299.32,794.24 299.42,794.58 299.51,794.92 299.60,795.25 299.70,795.59 299.79,795.93 299.89,796.26 299.98,796.60 300.08,796.94 300.18,797.27 300.28,797.61 300.38,797.94 300.47,798.28 300.57,798.62 300.67,798.95 300.77,799.29 300.87,799.62 300.97,799.96 301.07,800.29 301.17,800.63 301.27,800.96 301.37,801.30 301.48,801.63 301.58,801.97 301.68,802.30 301.79,802.64 301.89,802.97 302.00,803.30 302.11,803.64 302.22,803.97 302.33,804.30 302.44,804.63 302.55,804.96 302.67,805.29 302.78,805.62 302.90,805.95 303.02,806.28 303.15,806.61 303.27,806.94 303.40,807.26 303.54,807.58 303.67,807.91 303.81,808.23 303.95,808.55 304.09,808.87 304.23,809.19 304.38,809.51 304.52,809.83 304.67,810.14 304.83,810.46 304.98,810.77 305.14,811.09 305.29,811.40 305.45,811.70 305.62,811.99 305.78,812.31 305.95,812.63 306.12,812.98 306.29,813.33 306.47,813.60 306.65,813.84 306.82,814.07 307.01,814.28 307.19,814.56 307.38,814.85 307.57,815.14 307.76,815.43 307.95,815.70 308.14,815.97 308.34,816.23 308.54,816.50 308.73,816.85 308.94,817.22 309.14,817.59 309.34,817.97 309.55,818.36 309.76,818.76 309.97,819.17 310.18,819.58 310.40,819.68 310.61,819.77 310.83,819.83 311.05,819.88 311.27,820.30 311.49,820.73 311.72,821.18 311.94,821.63 312.17,821.77 312.39,821.90 312.62,822.02 312.85,822.14 313.08,822.40 313.31,822.67 313.55,822.94 313.78,823.20 314.02,824.03 314.26,824.86 314.49,825.69 314.74,826.51 314.98,826.33 315.22,826.14 315.47,825.96 315.72,825.77 315.97,825.59 316.22,825.41 316.47,825.23 316.72,825.04 316.97,825.86 317.23,826.67 317.48,827.48 317.74,828.29 318.00,828.28 318.25,828.27 318.51,828.27 318.77,828.26 319.03,828.80 319.30,829.34 319.56,829.88 319.83,830.42 320.10,830.07 320.37,829.73 320.65,829.38 320.92,829.04 321.19,829.82 321.46,830.60 321.73,831.39 322.00,832.18 322.27,832.20 322.53,832.22 322.79,832.25 323.05,832.28 323.30,832.50 323.55,832.72 323.79,832.96 324.03,833.19 324.26,833.37 324.49,833.55 324.72,833.73 324.95,833.91 325.18,834.49 325.42,835.06 325.67,835.63 325.92,836.19 326.18,836.33 326.45,836.47 326.71,836.61 326.98,836.75 327.25,836.76 327.53,836.76 327.81,836.76 328.09,836.76 328.37,836.81 328.65,836.85 328.94,836.90 329.23,836.93 329.52,837.14 329.81,837.35 330.11,837.55 330.41,837.75 330.70,838.05 331.00,838.34 331.31,838.63 331.61,838.92 331.91,838.89 332.22,838.86 332.53,838.83 332.84,838.79 333.15,838.86 333.46,838.93 333.77,839.00 334.08,839.07 334.40,839.63 334.72,840.20 335.03,840.76 335.35,841.32 335.67,841.54 335.99,841.76 336.31,841.98 336.63,842.19 336.95,842.43 337.27,842.66 337.59,842.89 337.91,843.12 338.23,842.75 338.55,842.39 338.88,842.02 339.20,841.64 339.52,841.88 339.85,842.11 340.17,842.34 340.50,842.57 340.83,842.61 341.16,842.65 341.48,842.68 341.81,842.72 342.15,843.13 342.48,843.53 342.81,843.94 343.15,844.34 343.48,844.22 343.82,844.10 344.16,843.97 344.49,843.84 344.83,843.94 345.17,844.03 345.51,844.12 345.86,844.21 346.20,844.12 346.54,844.02 346.88,843.92 347.23,843.82 347.57,844.36 347.91,844.90 348.26,845.44 348.60,845.98 348.95,846.36 349.29,846.73 349.64,847.11 349.98,847.48 350.32,846.80 350.67,846.12 351.01,845.45 351.36,844.77 351.70,845.07 352.05,845.37 352.39,845.67 352.73,845.97 353.08,846.23 353.42,846.49 353.77,846.75 354.11,847.01 354.46,847.13 354.80,847.25 355.15,847.36 355.49,847.47 355.84,847.18 356.18,846.89 356.53,846.59 356.88,846.29 357.22,846.15 357.57,846.00 357.92,845.85 358.26,845.70 358.61,846.23 358.96,846.75 359.30,847.26 359.65,847.78 360.00,847.78 360.35,847.78 360.70,847.78 361.04,847.77 361.39,847.60 361.74,847.42 362.09,847.25 362.44,847.07 362.78,847.50 363.13,847.93 363.48,848.36 363.83,848.79 364.18,848.64 364.53,848.50 364.88,848.35 365.22,848.20 365.57,848.13 365.92,848.06 366.27,847.99 366.62,847.92 366.97,847.96 367.32,848.00 367.67,848.04 368.02,848.08 368.36,847.76 368.71,847.44 369.06,847.12 369.41,846.80 369.76,847.41 370.11,848.03 370.46,848.64 370.81,849.25 371.16,849.29 371.51,849.33 371.86,849.36 372.21,849.40 372.56,848.85 372.91,848.31" fill="none" stroke="#5a5a5a" stroke-width="1.9" stroke-linejoin="round" stroke-linecap="round"/>
<polyline points="278.70,751.00 278.73,750.65 278.75,750.30 278.78,749.95 278.80,749.60 278.83,749.25 278.85,748.91 278.88,748.56 278.90,748.21 278.93,747.86 278.95,747.51 278.98,747.16 279.01,746.81 279.03,746.46 279.06,746.11 279.08,745.76 279.11,745.42 279.14,745.07 279.16,744.72 279.19,744.37 279.22,744.02 279.24,743.67 279.27,743.32 279.30,742.97 279.33,742.62 279.35,742.27 279.38,741.93 279.41,741.58 279.44,741.23 279.46,740.88 279.49,740.53 279.52,740.18 279.55,739.83 279.58,739.48 279.61,739.13 279.63,738.79 279.66,738.44 279.69,738.09 279.72,737.74 279.75,737.39 279.78,737.04 279.81,736.69 279.84,736.34 279.86,736.00 279.89,735.65 279.92,735.30 279.95,734.95 279.98,734.60 280.00,734.25 280.03,733.90 280.06,733.55 280.09,733.20 280.12,732.86 280.15,732.51 280.18,732.16 280.21,731.81 280.24,731.46 280.27,731.11 280.30,730.76 280.33,730.42 280.37,730.07 280.40,729.72 280.44,729.37 280.48,729.02 280.52,728.67 280.56,728.33 280.60,727.98 280.65,727.63 280.70,727.29 280.74,726.94 280.79,726.59 280.84,726.25 280.89,725.90 280.93,725.55 280.98,725.21 281.03,724.86 281.08,724.51 281.13,724.17 281.18,723.82 281.23,723.47 281.28,723.13 281.33,722.78 281.38,722.43 281.44,722.09 281.49,721.74 281.55,721.40 281.61,721.05 281.68,720.71 281.74,720.37 281.81,720.02 281.89,719.68 281.98,719.34 282.07,719.01 282.19,718.68 282.37,718.38 282.69,718.35 282.95,718.57 283.16,718.86 283.33,719.16 283.49,719.47 283.64,719.79 283.77,720.11 283.90,720.44 284.03,720.76 284.16,721.09 284.28,721.42 284.40,721.74 284.53,722.07 284.64,722.40 284.74,722.74 284.84,723.07 284.93,723.41 285.02,723.75 285.10,724.09 285.18,724.43 285.26,724.77 285.33,725.12 285.41,725.46 285.48,725.80 285.55,726.14 285.62,726.49 285.68,726.83 285.75,727.17 285.81,727.52 285.88,727.86 285.94,728.21 286.00,728.55 286.07,728.89 286.13,729.24 286.19,729.58 286.25,729.93 286.31,730.27 286.38,730.62 286.44,730.96 286.50,731.31 286.56,731.65 286.62,732.00 286.68,732.34 286.74,732.68 286.81,733.03 286.87,733.37 286.93,733.72 287.00,734.06 287.06,734.41 287.12,734.75 287.19,735.09 287.25,735.44 287.31,735.78 287.37,736.13 287.43,736.47 287.48,736.82 287.53,737.17 287.59,737.51 287.63,737.86 287.68,738.20 287.73,738.55 287.77,738.90 287.81,739.25 287.85,739.59 287.89,739.94 287.93,740.29 287.96,740.64 287.99,740.99 288.01,741.34 288.04,741.69 288.06,742.03 288.08,742.38 288.11,742.73 288.13,743.08 288.15,743.43 288.17,743.78 288.19,744.13 288.21,744.48 288.23,744.83 288.25,745.18 288.26,745.53 288.28,745.88 288.30,746.23 288.32,746.58 288.34,746.93 288.36,747.28 288.38,747.63 288.39,747.98 288.41,748.33 288.43,748.67 288.45,749.02 288.47,749.37 288.49,749.72 288.51,750.07 288.53,750.42 288.55,750.77 288.57,751.12 288.60,751.47 288.62,751.82 288.65,752.17 288.67,752.52 288.70,752.87 288.74,753.21 288.77,753.56 288.82,753.91 288.87,754.26 288.92,754.60 288.97,754.95 289.03,755.29 289.09,755.64 289.15,755.98 289.21,756.33 289.27,756.67 289.33,757.02 289.40,757.36 289.47,757.70 289.54,758.05 289.61,758.39 289.69,758.73 289.77,759.07 289.85,759.41 289.93,759.75 290.02,760.09 290.12,760.43 290.21,760.76 290.31,761.10 290.41,761.43 290.52,761.77 290.63,762.10 290.75,762.43 290.86,762.76 290.98,763.09 291.10,763.42 291.22,763.75 291.34,764.07 291.46,764.40 291.58,764.73 291.70,765.06 291.81,765.39 291.92,765.73 292.03,766.06 292.13,766.39 292.23,766.73 292.33,767.07 292.42,767.40 292.51,767.74 292.60,768.08 292.68,768.42 292.76,768.76 292.84,769.10 292.92,769.44 293.00,769.78 293.08,770.12 293.16,770.46 293.24,770.81 293.32,771.15 293.40,771.49 293.47,771.83 293.55,772.17 293.63,772.51 293.70,772.85 293.78,773.20 293.85,773.54 293.93,773.88 294.00,774.22 294.08,774.56 294.15,774.91 294.23,775.25 294.30,775.59 294.38,775.93 294.45,776.27 294.53,776.61 294.60,776.96 294.67,777.30 294.75,777.64 294.82,777.98 294.90,778.32 294.97,778.67 295.05,779.01 295.13,779.35 295.20,779.69 295.28,780.03 295.35,780.37 295.43,780.72 295.51,781.06 295.59,781.40 295.67,781.74 295.74,782.08 295.82,782.42 295.90,782.76 295.98,783.10 296.07,783.44 296.15,783.78 296.23,784.12 296.32,784.46 296.40,784.80 296.49,785.14 296.57,785.48 296.66,785.82 296.74,786.16 296.83,786.50 296.92,786.84 297.00,787.18 297.09,787.52 297.18,787.86 297.26,788.19 297.35,788.53 297.44,788.87 297.53,789.21 297.62,789.55 297.71,789.89 297.80,790.22 297.89,790.56 297.98,790.90 298.07,791.24 298.16,791.58 298.26,791.91 298.35,792.25 298.44,792.59 298.54,792.93 298.63,793.26 298.72,793.60 298.82,793.94 298.91,794.27 299.01,794.61 299.10,794.95 299.20,795.28 299.30,795.62 299.39,795.96 299.49,796.29 299.59,796.63 299.69,796.96 299.79,797.30 299.89,797.64 299.99,797.97 300.09,798.31 300.19,798.64 300.29,798.98 300.39,799.31 300.50,799.65 300.60,799.98 300.70,800.31 300.81,800.65 300.91,800.98 301.02,801.32 301.12,801.65 301.23,801.98 301.34,802.32 301.44,802.65 301.55,802.98 301.66,803.32 301.77,803.65 301.88,803.98 301.99,804.31 302.10,804.65 302.21,804.98 302.32,805.31 302.43,805.64 302.55,805.97 302.66,806.30 302.77,806.63 302.89,806.96 303.00,807.30 303.12,807.63 303.24,807.96 303.35,808.28 303.47,808.61 303.59,808.93 303.71,809.24 303.83,809.55 303.96,809.87 304.08,810.19 304.20,810.52 304.32,810.85 304.45,811.22 304.57,811.60 304.70,811.99 304.82,812.39 304.95,812.65 305.07,812.89 305.20,813.12 305.33,813.34 305.45,813.67 305.58,814.01 305.70,814.35 305.83,814.68 305.95,815.09 306.08,815.50 306.20,815.91 306.33,816.34 306.45,816.55 306.57,816.76 306.70,816.96 306.82,817.14 306.94,817.68 307.06,818.23 307.18,818.79 307.30,819.37 307.42,819.44 307.55,819.50 307.67,819.54 307.79,819.57 307.91,819.82 308.03,820.07 308.15,820.32 308.27,820.56 308.39,821.05 308.52,821.55 308.64,822.05 308.76,822.56 308.89,822.94 309.01,823.33 309.13,823.71 309.26,824.10 309.38,824.44 309.51,824.78 309.64,825.13 309.77,825.47 309.90,825.66 310.03,825.84 310.15,826.02 310.28,826.19 310.41,826.79 310.54,827.40 310.67,828.02 310.80,828.66 310.93,829.04 311.06,829.42 311.19,829.80 311.32,830.18 311.45,830.26 311.59,830.33 311.72,830.41 311.86,830.48 311.99,831.03 312.13,831.59 312.27,832.14 312.41,832.69 312.55,833.00 312.70,833.31 312.84,833.62 312.99,833.92 313.14,833.80 313.30,833.68 313.46,833.55 313.62,833.42 313.78,833.71 313.94,833.99 314.11,834.27 314.28,834.55 314.45,834.85 314.62,835.15 314.80,835.45 314.97,835.74 315.15,835.81 315.33,835.88 315.51,835.94 315.69,836.01 315.87,836.99 316.05,837.98 316.23,838.97 316.41,839.95 316.59,839.98 316.77,840.00 316.95,840.02 317.14,840.04 317.32,840.17 317.50,840.30 317.69,840.43 317.88,840.56 318.07,841.14 318.25,841.72 318.44,842.30 318.63,842.88 318.82,843.00 319.01,843.11 319.20,843.23 319.39,843.35 319.58,843.47 319.77,843.59 319.96,843.70 320.16,843.82 320.35,844.37 320.54,844.92 320.73,845.47 320.92,846.03 321.11,846.61 321.30,847.19 321.49,847.77 321.67,848.36 321.86,848.57 322.04,848.78 322.23,848.99 322.41,849.21 322.59,849.70 322.77,850.20 322.96,850.69 323.14,851.19 323.32,851.13 323.50,851.07 323.69,851.01 323.87,850.95 324.06,851.59 324.24,852.23 324.43,852.87 324.62,853.50 324.81,853.39 325.00,853.28 325.19,853.16 325.39,853.05 325.58,853.41 325.79,853.77 325.99,854.13 326.20,854.49 326.41,854.94 326.63,855.40 326.85,855.85 327.08,856.30 327.30,856.36 327.53,856.42 327.76,856.49 328.00,856.55 328.23,856.44 328.47,856.33 328.70,856.22 328.94,856.11 329.19,856.90 329.43,857.70 329.68,858.49 329.93,859.28 330.18,859.66 330.44,860.05 330.70,860.43 330.96,860.80 331.22,860.64 331.49,860.47 331.76,860.30 332.04,860.12 332.32,860.37 332.61,860.62 332.90,860.86 333.19,861.09 333.48,861.11 333.78,861.12 334.09,861.13 334.39,861.13 334.70,861.66 335.01,862.18 335.32,862.70 335.63,863.22 335.94,863.24 336.26,863.25 336.58,863.26 336.89,863.28 337.21,863.24 337.53,863.20 337.84,863.17 338.16,863.13 338.48,863.75 338.79,864.37 339.11,864.99 339.42,865.62 339.73,865.16 340.04,864.70 340.35,864.25 340.66,863.79 340.97,864.69 341.28,865.59 341.59,866.49 341.90,867.40 342.21,867.42 342.52,867.44 342.83,867.46 343.13,867.48 343.44,867.11 343.75,866.74 344.06,866.37 344.36,866.00 344.67,866.12 344.97,866.24 345.27,866.36 345.57,866.49 345.87,867.11 346.17,867.74 346.46,868.36 346.76,868.99 347.05,869.14 347.35,869.28 347.64,869.43 347.94,869.57 348.23,869.47 348.53,869.37 348.82,869.27 349.12,869.17 349.42,869.53 349.72,869.89 350.03,870.24 350.33,870.60 350.64,870.53 350.95,870.46 351.26,870.39 351.57,870.32 351.88,870.70 352.19,871.08 352.50,871.46 352.81,871.85 353.12,872.08 353.44,872.32 353.75,872.55 354.06,872.79 354.37,873.40 354.68,874.01 355.00,874.62 355.31,875.24 355.62,874.84 355.92,874.45 356.23,874.06 356.54,873.67 356.85,873.51 357.16,873.36 357.47,873.20 357.78,873.05 358.09,873.93 358.40,874.82 358.71,875.70 359.02,876.58 359.33,876.52 359.65,876.45 359.96,876.39 360.28,876.32 360.60,876.11 360.92,875.90 361.24,875.68 361.56,875.47 361.89,875.55 362.21,875.63 362.53,875.71 362.86,875.80 363.18,876.16 363.50,876.52 363.82,876.88 364.14,877.25 364.46,877.30 364.77,877.36 365.08,877.42 365.40,877.48 365.71,877.73 366.01,877.98 366.32,878.24 366.63,878.50 366.93,878.49 367.23,878.49 367.54,878.49 367.84,878.49 368.13,879.23 368.43,879.98 368.72,880.73 369.02,881.48 369.31,881.61 369.60,881.73 369.88,881.86 370.17,882.00 370.45,882.10 370.73,882.22 371.00,882.34 371.27,882.46 371.54,882.28 371.81,882.10 372.07,881.92 372.33,881.75 372.59,882.47 372.85,883.20" fill="none" stroke="#5a5a5a" stroke-width="1.9" stroke-linejoin="round" stroke-linecap="round"/>
<polyline points="355.6,749.6 356.2,737.3 356.9,748.6" fill="none" stroke="#5a5a5a" stroke-width="1.4" stroke-linejoin="round"/>
</svg>
</body></html>
